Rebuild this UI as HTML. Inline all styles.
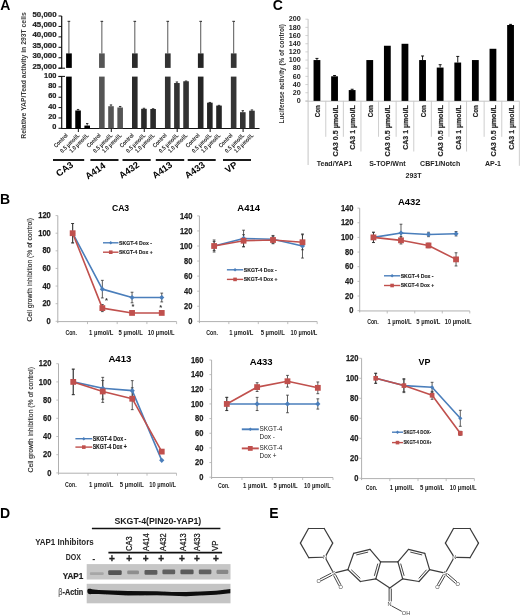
<!DOCTYPE html>
<html><head><meta charset="utf-8"><style>
html,body{margin:0;padding:0;background:#fff;width:520px;height:615px;overflow:hidden}
svg{display:block;font-family:"Liberation Sans",sans-serif;will-change:transform}
</style></head><body>
<svg width="520" height="615" viewBox="0 0 520 615">
<defs><filter id="blur1" x="-20%" y="-50%" width="140%" height="200%"><feGaussianBlur stdDeviation="0.6"/></filter></defs>
<rect width="520" height="615" fill="#fff"/>
<text x="0.2" y="9.9" font-size="14" font-weight="bold" text-anchor="start" fill="#000">A</text>
<text x="0" y="0" transform="translate(26,75.5) rotate(-90)" font-size="8" font-weight="bold" text-anchor="middle" fill="#3a3a3a" textLength="126.5" lengthAdjust="spacingAndGlyphs">Relative YAP/Tead activity in 293T cells</text>
<text x="56.5" y="16.52" font-size="6.4" font-weight="bold" text-anchor="end" fill="#222" textLength="24" lengthAdjust="spacingAndGlyphs" stroke="#222" stroke-width="0.2">50,000</text>
<line x1="58.5" y1="16" x2="61.7" y2="16" stroke="#111" stroke-width="1"/>
<text x="56.5" y="26.96" font-size="6.4" font-weight="bold" text-anchor="end" fill="#222" textLength="24" lengthAdjust="spacingAndGlyphs" stroke="#222" stroke-width="0.2">45,000</text>
<line x1="58.5" y1="26.44" x2="61.7" y2="26.44" stroke="#111" stroke-width="1"/>
<text x="56.5" y="37.4" font-size="6.4" font-weight="bold" text-anchor="end" fill="#222" textLength="24" lengthAdjust="spacingAndGlyphs" stroke="#222" stroke-width="0.2">40,000</text>
<line x1="58.5" y1="36.88" x2="61.7" y2="36.88" stroke="#111" stroke-width="1"/>
<text x="56.5" y="47.84" font-size="6.4" font-weight="bold" text-anchor="end" fill="#222" textLength="24" lengthAdjust="spacingAndGlyphs" stroke="#222" stroke-width="0.2">35,000</text>
<line x1="58.5" y1="47.32" x2="61.7" y2="47.32" stroke="#111" stroke-width="1"/>
<text x="56.5" y="58.28" font-size="6.4" font-weight="bold" text-anchor="end" fill="#222" textLength="24" lengthAdjust="spacingAndGlyphs" stroke="#222" stroke-width="0.2">30,000</text>
<line x1="58.5" y1="57.76" x2="61.7" y2="57.76" stroke="#111" stroke-width="1"/>
<text x="56.5" y="68.72" font-size="6.4" font-weight="bold" text-anchor="end" fill="#222" textLength="24" lengthAdjust="spacingAndGlyphs" stroke="#222" stroke-width="0.2">25,000</text>
<line x1="58.5" y1="68.2" x2="61.7" y2="68.2" stroke="#111" stroke-width="1"/>
<line x1="61.7" y1="16" x2="61.7" y2="68.2" stroke="#111" stroke-width="1.2"/>
<line x1="58.5" y1="68.2" x2="65" y2="68.2" stroke="#111" stroke-width="1"/>
<text x="56.5" y="77.57" font-size="6.9" font-weight="bold" text-anchor="end" fill="#222" textLength="12.39" lengthAdjust="spacingAndGlyphs" stroke="#222" stroke-width="0.2">100</text>
<line x1="58.5" y1="76.55" x2="61.7" y2="76.55" stroke="#111" stroke-width="1"/>
<text x="56.5" y="87.92" font-size="6.9" font-weight="bold" text-anchor="end" fill="#222" textLength="8.26" lengthAdjust="spacingAndGlyphs" stroke="#222" stroke-width="0.2">80</text>
<line x1="58.5" y1="86.9" x2="61.7" y2="86.9" stroke="#111" stroke-width="1"/>
<text x="56.5" y="98.27" font-size="6.9" font-weight="bold" text-anchor="end" fill="#222" textLength="8.26" lengthAdjust="spacingAndGlyphs" stroke="#222" stroke-width="0.2">60</text>
<line x1="58.5" y1="97.25" x2="61.7" y2="97.25" stroke="#111" stroke-width="1"/>
<text x="56.5" y="108.62" font-size="6.9" font-weight="bold" text-anchor="end" fill="#222" textLength="8.26" lengthAdjust="spacingAndGlyphs" stroke="#222" stroke-width="0.2">40</text>
<line x1="58.5" y1="107.6" x2="61.7" y2="107.6" stroke="#111" stroke-width="1"/>
<text x="56.5" y="118.97" font-size="6.9" font-weight="bold" text-anchor="end" fill="#222" textLength="8.26" lengthAdjust="spacingAndGlyphs" stroke="#222" stroke-width="0.2">20</text>
<line x1="58.5" y1="117.95" x2="61.7" y2="117.95" stroke="#111" stroke-width="1"/>
<text x="56.5" y="129.32" font-size="6.9" font-weight="bold" text-anchor="end" fill="#222" textLength="4.13" lengthAdjust="spacingAndGlyphs" stroke="#222" stroke-width="0.2">0</text>
<line x1="58.5" y1="128.3" x2="61.7" y2="128.3" stroke="#111" stroke-width="1"/>
<line x1="61.7" y1="76.4" x2="61.7" y2="128.5" stroke="#111" stroke-width="1.2"/>
<line x1="58.5" y1="76.4" x2="65" y2="76.4" stroke="#111" stroke-width="1"/>
<line x1="61.1" y1="128.5" x2="259.5" y2="128.5" stroke="#111" stroke-width="1.2"/>
<line x1="68.9" y1="21.3" x2="68.9" y2="53.6" stroke="#666" stroke-width="1.1"/>
<line x1="67.6" y1="21.4" x2="70.2" y2="21.4" stroke="#444" stroke-width="1.2"/>
<rect x="66.1" y="53.4" width="5.7" height="14.5" fill="#000"/>
<rect x="66.1" y="76.6" width="5.6" height="51.9" fill="#000"/>
<rect x="75.25" y="110.49" width="5.6" height="18.01" fill="#000"/>
<line x1="78.05" y1="109.46" x2="78.05" y2="110.49" stroke="#222" stroke-width="0.9"/>
<line x1="76.85" y1="109.46" x2="79.25" y2="109.46" stroke="#222" stroke-width="0.9"/>
<rect x="84.4" y="125.58" width="5.6" height="2.92" fill="#000"/>
<line x1="87.2" y1="123.51" x2="87.2" y2="125.58" stroke="#222" stroke-width="0.9"/>
<line x1="86" y1="123.51" x2="88.4" y2="123.51" stroke="#222" stroke-width="0.9"/>
<line x1="78.35" y1="128.5" x2="78.35" y2="132" stroke="#111" stroke-width="1"/>
<text x="0" y="0" transform="translate(68.3,135.8) rotate(-45)" font-size="6" font-weight="bold" text-anchor="end" fill="#222" textLength="17.2" lengthAdjust="spacingAndGlyphs">Control</text>
<text x="0" y="0" transform="translate(80.05,135.8) rotate(-45)" font-size="6" font-weight="bold" text-anchor="end" fill="#222" textLength="24.8" lengthAdjust="spacingAndGlyphs">0.5 µmol/L</text>
<text x="0" y="0" transform="translate(89.2,135.8) rotate(-45)" font-size="6" font-weight="bold" text-anchor="end" fill="#222" textLength="24.8" lengthAdjust="spacingAndGlyphs">1.0 µmol/L</text>
<line x1="101.85" y1="21.3" x2="101.85" y2="53.6" stroke="#666" stroke-width="1.1"/>
<line x1="100.55" y1="21.4" x2="103.15" y2="21.4" stroke="#444" stroke-width="1.2"/>
<rect x="99.05" y="53.4" width="5.7" height="14.5" fill="#555"/>
<rect x="99.05" y="76.6" width="5.6" height="51.9" fill="#555"/>
<rect x="108.2" y="106.21" width="5.6" height="22.29" fill="#555"/>
<line x1="111" y1="104.92" x2="111" y2="106.21" stroke="#222" stroke-width="0.9"/>
<line x1="109.8" y1="104.92" x2="112.2" y2="104.92" stroke="#222" stroke-width="0.9"/>
<rect x="117.35" y="107.5" width="5.6" height="21" fill="#555"/>
<line x1="120.15" y1="106.47" x2="120.15" y2="107.5" stroke="#222" stroke-width="0.9"/>
<line x1="118.95" y1="106.47" x2="121.35" y2="106.47" stroke="#222" stroke-width="0.9"/>
<line x1="111.3" y1="128.5" x2="111.3" y2="132" stroke="#111" stroke-width="1"/>
<text x="0" y="0" transform="translate(101.25,135.8) rotate(-45)" font-size="6" font-weight="bold" text-anchor="end" fill="#222" textLength="17.2" lengthAdjust="spacingAndGlyphs">Control</text>
<text x="0" y="0" transform="translate(113,135.8) rotate(-45)" font-size="6" font-weight="bold" text-anchor="end" fill="#222" textLength="24.8" lengthAdjust="spacingAndGlyphs">0.5 µmol/L</text>
<text x="0" y="0" transform="translate(122.15,135.8) rotate(-45)" font-size="6" font-weight="bold" text-anchor="end" fill="#222" textLength="24.8" lengthAdjust="spacingAndGlyphs">1.0 µmol/L</text>
<line x1="134.8" y1="21.3" x2="134.8" y2="53.6" stroke="#666" stroke-width="1.1"/>
<line x1="133.5" y1="21.4" x2="136.1" y2="21.4" stroke="#444" stroke-width="1.2"/>
<rect x="132" y="53.4" width="5.7" height="14.5" fill="#2b2b2b"/>
<rect x="132" y="76.6" width="5.6" height="51.9" fill="#2b2b2b"/>
<rect x="141.15" y="108.79" width="5.6" height="19.71" fill="#2b2b2b"/>
<line x1="143.95" y1="108.27" x2="143.95" y2="108.79" stroke="#222" stroke-width="0.9"/>
<line x1="142.75" y1="108.27" x2="145.15" y2="108.27" stroke="#222" stroke-width="0.9"/>
<rect x="150.3" y="109" width="5.6" height="19.5" fill="#2b2b2b"/>
<line x1="153.1" y1="108.74" x2="153.1" y2="109" stroke="#222" stroke-width="0.9"/>
<line x1="151.9" y1="108.74" x2="154.3" y2="108.74" stroke="#222" stroke-width="0.9"/>
<line x1="144.25" y1="128.5" x2="144.25" y2="132" stroke="#111" stroke-width="1"/>
<text x="0" y="0" transform="translate(134.2,135.8) rotate(-45)" font-size="6" font-weight="bold" text-anchor="end" fill="#222" textLength="17.2" lengthAdjust="spacingAndGlyphs">Control</text>
<text x="0" y="0" transform="translate(145.95,135.8) rotate(-45)" font-size="6" font-weight="bold" text-anchor="end" fill="#222" textLength="24.8" lengthAdjust="spacingAndGlyphs">0.5 µmol/L</text>
<text x="0" y="0" transform="translate(155.1,135.8) rotate(-45)" font-size="6" font-weight="bold" text-anchor="end" fill="#222" textLength="24.8" lengthAdjust="spacingAndGlyphs">1.0 µmol/L</text>
<line x1="167.75" y1="21.3" x2="167.75" y2="53.6" stroke="#666" stroke-width="1.1"/>
<line x1="166.45" y1="21.4" x2="169.05" y2="21.4" stroke="#444" stroke-width="1.2"/>
<rect x="164.95" y="53.4" width="5.7" height="14.5" fill="#333"/>
<rect x="164.95" y="76.6" width="5.6" height="51.9" fill="#333"/>
<rect x="174.1" y="83.02" width="5.6" height="45.48" fill="#333"/>
<line x1="176.9" y1="81.98" x2="176.9" y2="83.02" stroke="#222" stroke-width="0.9"/>
<line x1="175.7" y1="81.98" x2="178.1" y2="81.98" stroke="#222" stroke-width="0.9"/>
<rect x="183.25" y="81.26" width="5.6" height="47.24" fill="#333"/>
<line x1="186.05" y1="81" x2="186.05" y2="81.26" stroke="#222" stroke-width="0.9"/>
<line x1="184.85" y1="81" x2="187.25" y2="81" stroke="#222" stroke-width="0.9"/>
<line x1="177.2" y1="128.5" x2="177.2" y2="132" stroke="#111" stroke-width="1"/>
<text x="0" y="0" transform="translate(167.15,135.8) rotate(-45)" font-size="6" font-weight="bold" text-anchor="end" fill="#222" textLength="17.2" lengthAdjust="spacingAndGlyphs">Control</text>
<text x="0" y="0" transform="translate(178.9,135.8) rotate(-45)" font-size="6" font-weight="bold" text-anchor="end" fill="#222" textLength="24.8" lengthAdjust="spacingAndGlyphs">0.5 µmol/L</text>
<text x="0" y="0" transform="translate(188.05,135.8) rotate(-45)" font-size="6" font-weight="bold" text-anchor="end" fill="#222" textLength="24.8" lengthAdjust="spacingAndGlyphs">1.0 µmol/L</text>
<line x1="200.7" y1="21.3" x2="200.7" y2="53.6" stroke="#666" stroke-width="1.1"/>
<line x1="199.4" y1="21.4" x2="202" y2="21.4" stroke="#444" stroke-width="1.2"/>
<rect x="197.9" y="53.4" width="5.7" height="14.5" fill="#252525"/>
<rect x="197.9" y="76.6" width="5.6" height="51.9" fill="#252525"/>
<rect x="207.05" y="102.69" width="5.6" height="25.81" fill="#252525"/>
<line x1="209.85" y1="102.44" x2="209.85" y2="102.69" stroke="#222" stroke-width="0.9"/>
<line x1="208.65" y1="102.44" x2="211.05" y2="102.44" stroke="#222" stroke-width="0.9"/>
<rect x="216.2" y="105.59" width="5.6" height="22.91" fill="#252525"/>
<line x1="219" y1="105.33" x2="219" y2="105.59" stroke="#222" stroke-width="0.9"/>
<line x1="217.8" y1="105.33" x2="220.2" y2="105.33" stroke="#222" stroke-width="0.9"/>
<line x1="210.15" y1="128.5" x2="210.15" y2="132" stroke="#111" stroke-width="1"/>
<text x="0" y="0" transform="translate(200.1,135.8) rotate(-45)" font-size="6" font-weight="bold" text-anchor="end" fill="#222" textLength="17.2" lengthAdjust="spacingAndGlyphs">Control</text>
<text x="0" y="0" transform="translate(211.85,135.8) rotate(-45)" font-size="6" font-weight="bold" text-anchor="end" fill="#222" textLength="24.8" lengthAdjust="spacingAndGlyphs">0.5 µmol/L</text>
<text x="0" y="0" transform="translate(221,135.8) rotate(-45)" font-size="6" font-weight="bold" text-anchor="end" fill="#222" textLength="24.8" lengthAdjust="spacingAndGlyphs">1.0 µmol/L</text>
<line x1="233.65" y1="21.3" x2="233.65" y2="53.6" stroke="#666" stroke-width="1.1"/>
<line x1="232.35" y1="21.4" x2="234.95" y2="21.4" stroke="#444" stroke-width="1.2"/>
<rect x="230.85" y="53.4" width="5.7" height="14.5" fill="#353535"/>
<rect x="230.85" y="76.6" width="5.6" height="51.9" fill="#353535"/>
<rect x="240" y="112.2" width="5.6" height="16.3" fill="#353535"/>
<line x1="242.8" y1="110.65" x2="242.8" y2="112.2" stroke="#222" stroke-width="0.9"/>
<line x1="241.6" y1="110.65" x2="244" y2="110.65" stroke="#222" stroke-width="0.9"/>
<rect x="249.15" y="110.7" width="5.6" height="17.8" fill="#353535"/>
<line x1="251.95" y1="109.93" x2="251.95" y2="110.7" stroke="#222" stroke-width="0.9"/>
<line x1="250.75" y1="109.93" x2="253.15" y2="109.93" stroke="#222" stroke-width="0.9"/>
<line x1="243.1" y1="128.5" x2="243.1" y2="132" stroke="#111" stroke-width="1"/>
<text x="0" y="0" transform="translate(233.05,135.8) rotate(-45)" font-size="6" font-weight="bold" text-anchor="end" fill="#222" textLength="17.2" lengthAdjust="spacingAndGlyphs">Control</text>
<text x="0" y="0" transform="translate(244.8,135.8) rotate(-45)" font-size="6" font-weight="bold" text-anchor="end" fill="#222" textLength="24.8" lengthAdjust="spacingAndGlyphs">0.5 µmol/L</text>
<text x="0" y="0" transform="translate(253.95,135.8) rotate(-45)" font-size="6" font-weight="bold" text-anchor="end" fill="#222" textLength="24.8" lengthAdjust="spacingAndGlyphs">1.0 µmol/L</text>
<line x1="53" y1="160" x2="84.2" y2="160" stroke="#000" stroke-width="1.8"/>
<line x1="90.4" y1="160" x2="118.5" y2="160" stroke="#000" stroke-width="1.8"/>
<line x1="122.5" y1="160" x2="150.7" y2="160" stroke="#000" stroke-width="1.8"/>
<line x1="155.8" y1="160" x2="184.2" y2="160" stroke="#000" stroke-width="1.8"/>
<line x1="187.7" y1="160" x2="215.7" y2="160" stroke="#000" stroke-width="1.8"/>
<line x1="223" y1="160" x2="251" y2="160" stroke="#000" stroke-width="1.8"/>
<text x="0" y="0" transform="translate(73.9,166.3) rotate(-35)" font-size="9.3" font-weight="bold" text-anchor="end" fill="#000">CA3</text>
<text x="0" y="0" transform="translate(106.2,167.1) rotate(-35)" font-size="9.3" font-weight="bold" text-anchor="end" fill="#000">A414</text>
<text x="0" y="0" transform="translate(140,166.3) rotate(-35)" font-size="9.3" font-weight="bold" text-anchor="end" fill="#000">A432</text>
<text x="0" y="0" transform="translate(173.1,166.3) rotate(-35)" font-size="9.3" font-weight="bold" text-anchor="end" fill="#000">A413</text>
<text x="0" y="0" transform="translate(205.8,166.3) rotate(-35)" font-size="9.3" font-weight="bold" text-anchor="end" fill="#000">A433</text>
<text x="0" y="0" transform="translate(238,166.3) rotate(-35)" font-size="9.3" font-weight="bold" text-anchor="end" fill="#000">VP</text>
<text x="272.8" y="10.2" font-size="14" font-weight="bold" text-anchor="start" fill="#000">C</text>
<text x="0" y="0" transform="translate(284.2,73.8) rotate(-90)" font-size="7.4" font-weight="bold" text-anchor="middle" fill="#333" textLength="99.4" lengthAdjust="spacingAndGlyphs">Luciferase activity (% of control)</text>
<text x="300.8" y="103.06" font-size="7.2" font-weight="bold" text-anchor="end" fill="#222">0</text>
<line x1="305.4" y1="100.9" x2="308.1" y2="100.9" stroke="#c8c8c8" stroke-width="0.8"/>
<text x="300.8" y="94.89" font-size="7.2" font-weight="bold" text-anchor="end" fill="#222">20</text>
<line x1="305.4" y1="92.73" x2="308.1" y2="92.73" stroke="#c8c8c8" stroke-width="0.8"/>
<text x="300.8" y="86.72" font-size="7.2" font-weight="bold" text-anchor="end" fill="#222">40</text>
<line x1="305.4" y1="84.56" x2="308.1" y2="84.56" stroke="#c8c8c8" stroke-width="0.8"/>
<text x="300.8" y="78.55" font-size="7.2" font-weight="bold" text-anchor="end" fill="#222">60</text>
<line x1="305.4" y1="76.39" x2="308.1" y2="76.39" stroke="#c8c8c8" stroke-width="0.8"/>
<text x="300.8" y="70.38" font-size="7.2" font-weight="bold" text-anchor="end" fill="#222">80</text>
<line x1="305.4" y1="68.22" x2="308.1" y2="68.22" stroke="#c8c8c8" stroke-width="0.8"/>
<text x="300.8" y="62.21" font-size="7.2" font-weight="bold" text-anchor="end" fill="#222">100</text>
<line x1="305.4" y1="60.05" x2="308.1" y2="60.05" stroke="#c8c8c8" stroke-width="0.8"/>
<text x="300.8" y="54.04" font-size="7.2" font-weight="bold" text-anchor="end" fill="#222">120</text>
<line x1="305.4" y1="51.88" x2="308.1" y2="51.88" stroke="#c8c8c8" stroke-width="0.8"/>
<text x="300.8" y="45.87" font-size="7.2" font-weight="bold" text-anchor="end" fill="#222">140</text>
<line x1="305.4" y1="43.71" x2="308.1" y2="43.71" stroke="#c8c8c8" stroke-width="0.8"/>
<text x="300.8" y="37.7" font-size="7.2" font-weight="bold" text-anchor="end" fill="#222">160</text>
<line x1="305.4" y1="35.54" x2="308.1" y2="35.54" stroke="#c8c8c8" stroke-width="0.8"/>
<text x="300.8" y="29.53" font-size="7.2" font-weight="bold" text-anchor="end" fill="#222">180</text>
<line x1="305.4" y1="27.37" x2="308.1" y2="27.37" stroke="#c8c8c8" stroke-width="0.8"/>
<text x="300.8" y="21.36" font-size="7.2" font-weight="bold" text-anchor="end" fill="#222">200</text>
<line x1="305.4" y1="19.2" x2="308.1" y2="19.2" stroke="#c8c8c8" stroke-width="0.8"/>
<line x1="308.1" y1="19.2" x2="308.1" y2="165" stroke="#c4c4c4" stroke-width="1"/>
<line x1="305.4" y1="101.2" x2="519.5" y2="101.2" stroke="#c4c4c4" stroke-width="1"/>
<line x1="325.75" y1="100.9" x2="325.75" y2="136.8" stroke="#c8c8c8" stroke-width="0.9"/>
<line x1="343.35" y1="100.9" x2="343.35" y2="136.8" stroke="#c8c8c8" stroke-width="0.9"/>
<line x1="360.95" y1="100.9" x2="360.95" y2="151.5" stroke="#c8c8c8" stroke-width="0.9"/>
<line x1="378.55" y1="100.9" x2="378.55" y2="136.8" stroke="#c8c8c8" stroke-width="0.9"/>
<line x1="396.15" y1="100.9" x2="396.15" y2="136.8" stroke="#c8c8c8" stroke-width="0.9"/>
<line x1="413.75" y1="100.9" x2="413.75" y2="151.5" stroke="#c8c8c8" stroke-width="0.9"/>
<line x1="431.35" y1="100.9" x2="431.35" y2="136.8" stroke="#c8c8c8" stroke-width="0.9"/>
<line x1="448.95" y1="100.9" x2="448.95" y2="136.8" stroke="#c8c8c8" stroke-width="0.9"/>
<line x1="466.55" y1="100.9" x2="466.55" y2="151.5" stroke="#c8c8c8" stroke-width="0.9"/>
<line x1="484.15" y1="100.9" x2="484.15" y2="136.8" stroke="#c8c8c8" stroke-width="0.9"/>
<line x1="501.75" y1="100.9" x2="501.75" y2="136.8" stroke="#c8c8c8" stroke-width="0.9"/>
<line x1="519.35" y1="100.9" x2="519.35" y2="165.8" stroke="#c8c8c8" stroke-width="0.9"/>
<rect x="313.55" y="60.05" width="6.8" height="40.85" fill="#000"/>
<line x1="316.95" y1="58.42" x2="316.95" y2="60.05" stroke="#000" stroke-width="0.9"/>
<line x1="315.45" y1="58.42" x2="318.45" y2="58.42" stroke="#000" stroke-width="0.9"/>
<text x="0" y="0" transform="translate(320.05,105.2) rotate(-90)" font-size="7.1" font-weight="bold" text-anchor="end" fill="#262626" textLength="12.1" lengthAdjust="spacingAndGlyphs" stroke="#262626" stroke-width="0.2">Con</text>
<rect x="331.15" y="76.31" width="6.8" height="24.59" fill="#000"/>
<line x1="334.55" y1="75.49" x2="334.55" y2="76.31" stroke="#000" stroke-width="0.9"/>
<line x1="333.05" y1="75.49" x2="336.05" y2="75.49" stroke="#000" stroke-width="0.9"/>
<text x="0" y="0" transform="translate(337.65,105.2) rotate(-90)" font-size="7.1" font-weight="bold" text-anchor="end" fill="#262626" textLength="51.3" lengthAdjust="spacingAndGlyphs" stroke="#262626" stroke-width="0.2">CA3 0.5 µmol/L</text>
<rect x="348.75" y="90.07" width="6.8" height="10.83" fill="#000"/>
<line x1="352.15" y1="89.26" x2="352.15" y2="90.07" stroke="#000" stroke-width="0.9"/>
<line x1="350.65" y1="89.26" x2="353.65" y2="89.26" stroke="#000" stroke-width="0.9"/>
<text x="0" y="0" transform="translate(355.25,105.2) rotate(-90)" font-size="7.1" font-weight="bold" text-anchor="end" fill="#262626" textLength="44.6" lengthAdjust="spacingAndGlyphs" stroke="#262626" stroke-width="0.2">CA3 1 µmol/L</text>
<rect x="366.35" y="60.05" width="6.8" height="40.85" fill="#000"/>
<text x="0" y="0" transform="translate(372.85,105.2) rotate(-90)" font-size="7.1" font-weight="bold" text-anchor="end" fill="#262626" textLength="12.1" lengthAdjust="spacingAndGlyphs" stroke="#262626" stroke-width="0.2">Con</text>
<rect x="383.95" y="45.75" width="6.8" height="55.15" fill="#000"/>
<text x="0" y="0" transform="translate(390.45,105.2) rotate(-90)" font-size="7.1" font-weight="bold" text-anchor="end" fill="#262626" textLength="51.3" lengthAdjust="spacingAndGlyphs" stroke="#262626" stroke-width="0.2">CA3 0.5 µmol/L</text>
<rect x="401.55" y="43.79" width="6.8" height="57.11" fill="#000"/>
<text x="0" y="0" transform="translate(408.05,105.2) rotate(-90)" font-size="7.1" font-weight="bold" text-anchor="end" fill="#262626" textLength="44.6" lengthAdjust="spacingAndGlyphs" stroke="#262626" stroke-width="0.2">CA3 1 µmol/L</text>
<rect x="419.15" y="60.05" width="6.8" height="40.85" fill="#000"/>
<line x1="422.55" y1="55.97" x2="422.55" y2="60.05" stroke="#000" stroke-width="0.9"/>
<line x1="421.05" y1="55.97" x2="424.05" y2="55.97" stroke="#000" stroke-width="0.9"/>
<text x="0" y="0" transform="translate(425.65,105.2) rotate(-90)" font-size="7.1" font-weight="bold" text-anchor="end" fill="#262626" textLength="12.1" lengthAdjust="spacingAndGlyphs" stroke="#262626" stroke-width="0.2">Con</text>
<rect x="436.75" y="67.57" width="6.8" height="33.33" fill="#000"/>
<line x1="440.15" y1="64.71" x2="440.15" y2="67.57" stroke="#000" stroke-width="0.9"/>
<line x1="438.65" y1="64.71" x2="441.65" y2="64.71" stroke="#000" stroke-width="0.9"/>
<text x="0" y="0" transform="translate(443.25,105.2) rotate(-90)" font-size="7.1" font-weight="bold" text-anchor="end" fill="#262626" textLength="51.3" lengthAdjust="spacingAndGlyphs" stroke="#262626" stroke-width="0.2">CA3 0.5 µmol/L</text>
<rect x="454.35" y="62.54" width="6.8" height="38.36" fill="#000"/>
<line x1="457.75" y1="56.41" x2="457.75" y2="62.54" stroke="#000" stroke-width="0.9"/>
<line x1="456.25" y1="56.41" x2="459.25" y2="56.41" stroke="#000" stroke-width="0.9"/>
<text x="0" y="0" transform="translate(460.85,105.2) rotate(-90)" font-size="7.1" font-weight="bold" text-anchor="end" fill="#262626" textLength="44.6" lengthAdjust="spacingAndGlyphs" stroke="#262626" stroke-width="0.2">CA3 1 µmol/L</text>
<rect x="471.95" y="60.05" width="6.8" height="40.85" fill="#000"/>
<text x="0" y="0" transform="translate(478.45,105.2) rotate(-90)" font-size="7.1" font-weight="bold" text-anchor="end" fill="#262626" textLength="12.1" lengthAdjust="spacingAndGlyphs" stroke="#262626" stroke-width="0.2">Con</text>
<rect x="489.55" y="48.78" width="6.8" height="52.12" fill="#000"/>
<text x="0" y="0" transform="translate(496.05,105.2) rotate(-90)" font-size="7.1" font-weight="bold" text-anchor="end" fill="#262626" textLength="51.3" lengthAdjust="spacingAndGlyphs" stroke="#262626" stroke-width="0.2">CA3 0.5 µmol/L</text>
<rect x="507.15" y="25" width="6.8" height="75.9" fill="#000"/>
<line x1="510.55" y1="24.39" x2="510.55" y2="25" stroke="#000" stroke-width="0.9"/>
<line x1="509.05" y1="24.39" x2="512.05" y2="24.39" stroke="#000" stroke-width="0.9"/>
<text x="0" y="0" transform="translate(513.65,105.2) rotate(-90)" font-size="7.1" font-weight="bold" text-anchor="end" fill="#262626" textLength="44.6" lengthAdjust="spacingAndGlyphs" stroke="#262626" stroke-width="0.2">CA3 1 µmol/L</text>
<text x="334.55" y="165.6" font-size="7" font-weight="bold" text-anchor="middle" fill="#222">Tead/YAP1</text>
<text x="387.35" y="165.6" font-size="7" font-weight="bold" text-anchor="middle" fill="#222">S-TOP/Wnt</text>
<text x="440.15" y="165.6" font-size="7" font-weight="bold" text-anchor="middle" fill="#222">CBF1/Notch</text>
<text x="492.95" y="165.6" font-size="7" font-weight="bold" text-anchor="middle" fill="#222">AP-1</text>
<text x="413.5" y="177.9" font-size="7" font-weight="bold" text-anchor="middle" fill="#222">293T</text>
<text x="0" y="203.8" font-size="14" font-weight="bold" text-anchor="start" fill="#000">B</text>
<text x="120.55" y="210.68" font-size="9.6" font-weight="bold" text-anchor="middle" fill="#000" textLength="17.3" lengthAdjust="spacingAndGlyphs">CA3</text>
<text x="50.8" y="323.94" font-size="8.8" font-weight="bold" text-anchor="end" fill="#1e1e1e" textLength="4.2" lengthAdjust="spacingAndGlyphs" stroke="#1e1e1e" stroke-width="0.25">0</text>
<line x1="55.6" y1="321.3" x2="57.8" y2="321.3" stroke="#b0b0b0" stroke-width="0.8"/>
<text x="50.8" y="306.32" font-size="8.8" font-weight="bold" text-anchor="end" fill="#1e1e1e" textLength="8.4" lengthAdjust="spacingAndGlyphs" stroke="#1e1e1e" stroke-width="0.25">20</text>
<line x1="55.6" y1="303.68" x2="57.8" y2="303.68" stroke="#b0b0b0" stroke-width="0.8"/>
<text x="50.8" y="288.7" font-size="8.8" font-weight="bold" text-anchor="end" fill="#1e1e1e" textLength="8.4" lengthAdjust="spacingAndGlyphs" stroke="#1e1e1e" stroke-width="0.25">40</text>
<line x1="55.6" y1="286.06" x2="57.8" y2="286.06" stroke="#b0b0b0" stroke-width="0.8"/>
<text x="50.8" y="271.08" font-size="8.8" font-weight="bold" text-anchor="end" fill="#1e1e1e" textLength="8.4" lengthAdjust="spacingAndGlyphs" stroke="#1e1e1e" stroke-width="0.25">60</text>
<line x1="55.6" y1="268.44" x2="57.8" y2="268.44" stroke="#b0b0b0" stroke-width="0.8"/>
<text x="50.8" y="253.46" font-size="8.8" font-weight="bold" text-anchor="end" fill="#1e1e1e" textLength="8.4" lengthAdjust="spacingAndGlyphs" stroke="#1e1e1e" stroke-width="0.25">80</text>
<line x1="55.6" y1="250.82" x2="57.8" y2="250.82" stroke="#b0b0b0" stroke-width="0.8"/>
<text x="50.8" y="235.84" font-size="8.8" font-weight="bold" text-anchor="end" fill="#1e1e1e" textLength="12.6" lengthAdjust="spacingAndGlyphs" stroke="#1e1e1e" stroke-width="0.25">100</text>
<line x1="55.6" y1="233.2" x2="57.8" y2="233.2" stroke="#b0b0b0" stroke-width="0.8"/>
<text x="50.8" y="218.22" font-size="8.8" font-weight="bold" text-anchor="end" fill="#1e1e1e" textLength="12.6" lengthAdjust="spacingAndGlyphs" stroke="#1e1e1e" stroke-width="0.25">120</text>
<line x1="55.6" y1="215.58" x2="57.8" y2="215.58" stroke="#b0b0b0" stroke-width="0.8"/>
<line x1="57.8" y1="215.58" x2="57.8" y2="323.1" stroke="#b0b0b0" stroke-width="1"/>
<line x1="57.3" y1="321.6" x2="176.6" y2="321.6" stroke="#b0b0b0" stroke-width="1"/>
<line x1="87.5" y1="321.6" x2="87.5" y2="324.1" stroke="#b0b0b0" stroke-width="0.8"/>
<line x1="117.2" y1="321.6" x2="117.2" y2="324.1" stroke="#b0b0b0" stroke-width="0.8"/>
<line x1="146.9" y1="321.6" x2="146.9" y2="324.1" stroke="#b0b0b0" stroke-width="0.8"/>
<line x1="176.6" y1="321.6" x2="176.6" y2="324.1" stroke="#b0b0b0" stroke-width="0.8"/>
<text x="71.2" y="334.8" font-size="7" font-weight="bold" text-anchor="middle" fill="#222" textLength="11.6" lengthAdjust="spacingAndGlyphs">Con.</text>
<text x="101.2" y="334.8" font-size="7" font-weight="bold" text-anchor="middle" fill="#222" textLength="24.2" lengthAdjust="spacingAndGlyphs">1 µmol/L</text>
<text x="130.7" y="334.8" font-size="7" font-weight="bold" text-anchor="middle" fill="#222" textLength="24.2" lengthAdjust="spacingAndGlyphs">5 µmol/L</text>
<text x="161.2" y="334.8" font-size="7" font-weight="bold" text-anchor="middle" fill="#222" textLength="26.8" lengthAdjust="spacingAndGlyphs">10 µmol/L</text>
<line x1="72.65" y1="223.51" x2="72.65" y2="242.89" stroke="#333" stroke-width="0.8"/>
<line x1="71.25" y1="223.51" x2="74.05" y2="223.51" stroke="#333" stroke-width="0.8"/>
<line x1="71.25" y1="242.89" x2="74.05" y2="242.89" stroke="#333" stroke-width="0.8"/>
<line x1="102.35" y1="280.33" x2="102.35" y2="297.95" stroke="#333" stroke-width="0.8"/>
<line x1="100.95" y1="280.33" x2="103.75" y2="280.33" stroke="#333" stroke-width="0.8"/>
<line x1="100.95" y1="297.95" x2="103.75" y2="297.95" stroke="#333" stroke-width="0.8"/>
<line x1="132.05" y1="292.23" x2="132.05" y2="302.8" stroke="#333" stroke-width="0.8"/>
<line x1="130.65" y1="292.23" x2="133.45" y2="292.23" stroke="#333" stroke-width="0.8"/>
<line x1="130.65" y1="302.8" x2="133.45" y2="302.8" stroke="#333" stroke-width="0.8"/>
<line x1="161.75" y1="293.11" x2="161.75" y2="301.92" stroke="#333" stroke-width="0.8"/>
<line x1="160.35" y1="293.11" x2="163.15" y2="293.11" stroke="#333" stroke-width="0.8"/>
<line x1="160.35" y1="301.92" x2="163.15" y2="301.92" stroke="#333" stroke-width="0.8"/>
<line x1="72.65" y1="223.51" x2="72.65" y2="242.89" stroke="#333" stroke-width="0.8"/>
<line x1="71.25" y1="223.51" x2="74.05" y2="223.51" stroke="#333" stroke-width="0.8"/>
<line x1="71.25" y1="242.89" x2="74.05" y2="242.89" stroke="#333" stroke-width="0.8"/>
<line x1="102.35" y1="304.56" x2="102.35" y2="311.61" stroke="#333" stroke-width="0.8"/>
<line x1="100.95" y1="304.56" x2="103.75" y2="304.56" stroke="#333" stroke-width="0.8"/>
<line x1="100.95" y1="311.61" x2="103.75" y2="311.61" stroke="#333" stroke-width="0.8"/>
<polyline points="72.65,233.2 102.35,289.14 132.05,297.51 161.75,297.51" fill="none" stroke="#4a7ebb" stroke-width="1.6" stroke-linejoin="round"/>
<polyline points="72.65,233.2 102.35,308.09 132.05,312.93 161.75,312.93" fill="none" stroke="#c0504d" stroke-width="1.6" stroke-linejoin="round"/>
<path d="M72.65 230.6L75.25 233.2L72.65 235.8L70.05 233.2Z" fill="#4a7ebb"/>
<path d="M102.35 286.54L104.95 289.14L102.35 291.74L99.75 289.14Z" fill="#4a7ebb"/>
<path d="M132.05 294.91L134.65 297.51L132.05 300.11L129.45 297.51Z" fill="#4a7ebb"/>
<path d="M161.75 294.91L164.35 297.51L161.75 300.11L159.15 297.51Z" fill="#4a7ebb"/>
<rect x="69.75" y="230.3" width="5.8" height="5.8" fill="#c0504d"/>
<rect x="99.45" y="305.19" width="5.8" height="5.8" fill="#c0504d"/>
<rect x="129.15" y="310.03" width="5.8" height="5.8" fill="#c0504d"/>
<rect x="158.85" y="310.03" width="5.8" height="5.8" fill="#c0504d"/>
<line x1="103" y1="242.8" x2="118.5" y2="242.8" stroke="#4a7ebb" stroke-width="1.4"/>
<path d="M110.75 241.1L112.45 242.8L110.75 244.5L109.05 242.8Z" fill="#4a7ebb"/>
<line x1="103" y1="252.2" x2="118.5" y2="252.2" stroke="#c0504d" stroke-width="1.4"/>
<rect x="108.95" y="250.4" width="3.6" height="3.6" fill="#c0504d"/>
<text x="119" y="244.66" font-size="6.2" font-weight="bold" text-anchor="start" fill="#1e1e1e" textLength="33" lengthAdjust="spacingAndGlyphs" stroke="#1e1e1e" stroke-width="0.15">SKGT-4 Dox -</text>
<text x="119" y="254.06" font-size="6.2" font-weight="bold" text-anchor="start" fill="#1e1e1e" textLength="33.6" lengthAdjust="spacingAndGlyphs" stroke="#1e1e1e" stroke-width="0.15">SKGT-4 Dox +</text>
<text x="106.5" y="302.9" font-size="7.5" font-weight="bold" text-anchor="middle" fill="#333">*</text>
<text x="133" y="308.5" font-size="7.5" font-weight="bold" text-anchor="middle" fill="#333">*</text>
<text x="160.7" y="309.6" font-size="7.5" font-weight="bold" text-anchor="middle" fill="#333">*</text>
<text x="0" y="0" transform="translate(32.2,269.8) rotate(-90)" font-size="7" font-weight="normal" text-anchor="middle" fill="#2a2a2a" textLength="103.4" lengthAdjust="spacingAndGlyphs" stroke="#2a2a2a" stroke-width="0.15">Cell growth inhibition (% of control)</text>
<text x="248.65" y="211.48" font-size="9.6" font-weight="bold" text-anchor="middle" fill="#000" textLength="22.7" lengthAdjust="spacingAndGlyphs">A414</text>
<text x="192.5" y="323.94" font-size="8.8" font-weight="bold" text-anchor="end" fill="#1e1e1e" textLength="4.2" lengthAdjust="spacingAndGlyphs" stroke="#1e1e1e" stroke-width="0.25">0</text>
<line x1="197.2" y1="321.3" x2="199.4" y2="321.3" stroke="#b0b0b0" stroke-width="0.8"/>
<text x="192.5" y="308.88" font-size="8.8" font-weight="bold" text-anchor="end" fill="#1e1e1e" textLength="8.4" lengthAdjust="spacingAndGlyphs" stroke="#1e1e1e" stroke-width="0.25">20</text>
<line x1="197.2" y1="306.24" x2="199.4" y2="306.24" stroke="#b0b0b0" stroke-width="0.8"/>
<text x="192.5" y="293.82" font-size="8.8" font-weight="bold" text-anchor="end" fill="#1e1e1e" textLength="8.4" lengthAdjust="spacingAndGlyphs" stroke="#1e1e1e" stroke-width="0.25">40</text>
<line x1="197.2" y1="291.18" x2="199.4" y2="291.18" stroke="#b0b0b0" stroke-width="0.8"/>
<text x="192.5" y="278.76" font-size="8.8" font-weight="bold" text-anchor="end" fill="#1e1e1e" textLength="8.4" lengthAdjust="spacingAndGlyphs" stroke="#1e1e1e" stroke-width="0.25">60</text>
<line x1="197.2" y1="276.12" x2="199.4" y2="276.12" stroke="#b0b0b0" stroke-width="0.8"/>
<text x="192.5" y="263.7" font-size="8.8" font-weight="bold" text-anchor="end" fill="#1e1e1e" textLength="8.4" lengthAdjust="spacingAndGlyphs" stroke="#1e1e1e" stroke-width="0.25">80</text>
<line x1="197.2" y1="261.06" x2="199.4" y2="261.06" stroke="#b0b0b0" stroke-width="0.8"/>
<text x="192.5" y="248.64" font-size="8.8" font-weight="bold" text-anchor="end" fill="#1e1e1e" textLength="12.6" lengthAdjust="spacingAndGlyphs" stroke="#1e1e1e" stroke-width="0.25">100</text>
<line x1="197.2" y1="246" x2="199.4" y2="246" stroke="#b0b0b0" stroke-width="0.8"/>
<text x="192.5" y="233.58" font-size="8.8" font-weight="bold" text-anchor="end" fill="#1e1e1e" textLength="12.6" lengthAdjust="spacingAndGlyphs" stroke="#1e1e1e" stroke-width="0.25">120</text>
<line x1="197.2" y1="230.94" x2="199.4" y2="230.94" stroke="#b0b0b0" stroke-width="0.8"/>
<text x="192.5" y="218.52" font-size="8.8" font-weight="bold" text-anchor="end" fill="#1e1e1e" textLength="12.6" lengthAdjust="spacingAndGlyphs" stroke="#1e1e1e" stroke-width="0.25">140</text>
<line x1="197.2" y1="215.88" x2="199.4" y2="215.88" stroke="#b0b0b0" stroke-width="0.8"/>
<line x1="199.4" y1="215.88" x2="199.4" y2="323.1" stroke="#b0b0b0" stroke-width="1"/>
<line x1="198.9" y1="321.6" x2="317.2" y2="321.6" stroke="#b0b0b0" stroke-width="1"/>
<line x1="228.85" y1="321.6" x2="228.85" y2="324.1" stroke="#b0b0b0" stroke-width="0.8"/>
<line x1="258.3" y1="321.6" x2="258.3" y2="324.1" stroke="#b0b0b0" stroke-width="0.8"/>
<line x1="287.75" y1="321.6" x2="287.75" y2="324.1" stroke="#b0b0b0" stroke-width="0.8"/>
<line x1="317.2" y1="321.6" x2="317.2" y2="324.1" stroke="#b0b0b0" stroke-width="0.8"/>
<text x="212.12" y="334.6" font-size="7" font-weight="bold" text-anchor="middle" fill="#222" textLength="11.6" lengthAdjust="spacingAndGlyphs">Con.</text>
<text x="241.27" y="334.6" font-size="7" font-weight="bold" text-anchor="middle" fill="#222" textLength="24.2" lengthAdjust="spacingAndGlyphs">1 µmol/L</text>
<text x="272.77" y="334.6" font-size="7" font-weight="bold" text-anchor="middle" fill="#222" textLength="24.2" lengthAdjust="spacingAndGlyphs">5 µmol/L</text>
<text x="303.98" y="334.6" font-size="7" font-weight="bold" text-anchor="middle" fill="#222" textLength="26.8" lengthAdjust="spacingAndGlyphs">10 µmol/L</text>
<line x1="214.12" y1="239.98" x2="214.12" y2="252.02" stroke="#333" stroke-width="0.8"/>
<line x1="212.72" y1="239.98" x2="215.53" y2="239.98" stroke="#333" stroke-width="0.8"/>
<line x1="212.72" y1="252.02" x2="215.53" y2="252.02" stroke="#333" stroke-width="0.8"/>
<line x1="243.57" y1="230.19" x2="243.57" y2="246.75" stroke="#333" stroke-width="0.8"/>
<line x1="242.17" y1="230.19" x2="244.97" y2="230.19" stroke="#333" stroke-width="0.8"/>
<line x1="242.17" y1="246.75" x2="244.97" y2="246.75" stroke="#333" stroke-width="0.8"/>
<line x1="273.02" y1="235.46" x2="273.02" y2="242.99" stroke="#333" stroke-width="0.8"/>
<line x1="271.62" y1="235.46" x2="274.42" y2="235.46" stroke="#333" stroke-width="0.8"/>
<line x1="271.62" y1="242.99" x2="274.42" y2="242.99" stroke="#333" stroke-width="0.8"/>
<line x1="302.48" y1="233.95" x2="302.48" y2="258.05" stroke="#333" stroke-width="0.8"/>
<line x1="301.08" y1="233.95" x2="303.88" y2="233.95" stroke="#333" stroke-width="0.8"/>
<line x1="301.08" y1="258.05" x2="303.88" y2="258.05" stroke="#333" stroke-width="0.8"/>
<line x1="214.12" y1="241.48" x2="214.12" y2="250.52" stroke="#333" stroke-width="0.8"/>
<line x1="212.72" y1="241.48" x2="215.53" y2="241.48" stroke="#333" stroke-width="0.8"/>
<line x1="212.72" y1="250.52" x2="215.53" y2="250.52" stroke="#333" stroke-width="0.8"/>
<line x1="243.57" y1="234.71" x2="243.57" y2="246.75" stroke="#333" stroke-width="0.8"/>
<line x1="242.17" y1="234.71" x2="244.97" y2="234.71" stroke="#333" stroke-width="0.8"/>
<line x1="242.17" y1="246.75" x2="244.97" y2="246.75" stroke="#333" stroke-width="0.8"/>
<line x1="273.02" y1="236.21" x2="273.02" y2="243.74" stroke="#333" stroke-width="0.8"/>
<line x1="271.62" y1="236.21" x2="274.42" y2="236.21" stroke="#333" stroke-width="0.8"/>
<line x1="271.62" y1="243.74" x2="274.42" y2="243.74" stroke="#333" stroke-width="0.8"/>
<line x1="302.48" y1="234.71" x2="302.48" y2="249.77" stroke="#333" stroke-width="0.8"/>
<line x1="301.08" y1="234.71" x2="303.88" y2="234.71" stroke="#333" stroke-width="0.8"/>
<line x1="301.08" y1="249.77" x2="303.88" y2="249.77" stroke="#333" stroke-width="0.8"/>
<polyline points="214.12,246 243.57,238.47 273.02,239.22 302.48,246" fill="none" stroke="#4a7ebb" stroke-width="1.6" stroke-linejoin="round"/>
<polyline points="214.12,246 243.57,240.73 273.02,239.98 302.48,242.24" fill="none" stroke="#c0504d" stroke-width="1.6" stroke-linejoin="round"/>
<path d="M214.12 243.4L216.72 246L214.12 248.6L211.53 246Z" fill="#4a7ebb"/>
<path d="M243.57 235.87L246.17 238.47L243.57 241.07L240.97 238.47Z" fill="#4a7ebb"/>
<path d="M273.02 236.62L275.62 239.22L273.02 241.82L270.42 239.22Z" fill="#4a7ebb"/>
<path d="M302.48 243.4L305.08 246L302.48 248.6L299.88 246Z" fill="#4a7ebb"/>
<rect x="211.22" y="243.1" width="5.8" height="5.8" fill="#c0504d"/>
<rect x="240.67" y="237.83" width="5.8" height="5.8" fill="#c0504d"/>
<rect x="270.12" y="237.08" width="5.8" height="5.8" fill="#c0504d"/>
<rect x="299.58" y="239.34" width="5.8" height="5.8" fill="#c0504d"/>
<line x1="226.9" y1="269.8" x2="243.2" y2="269.8" stroke="#4a7ebb" stroke-width="1.4"/>
<path d="M235.05 268.1L236.75 269.8L235.05 271.5L233.35 269.8Z" fill="#4a7ebb"/>
<line x1="226.9" y1="279.4" x2="243.2" y2="279.4" stroke="#c0504d" stroke-width="1.4"/>
<rect x="233.25" y="277.6" width="3.6" height="3.6" fill="#c0504d"/>
<text x="243.7" y="271.66" font-size="6.2" font-weight="bold" text-anchor="start" fill="#1e1e1e" textLength="33.1" lengthAdjust="spacingAndGlyphs" stroke="#1e1e1e" stroke-width="0.15">SKGT-4 Dox -</text>
<text x="243.7" y="281.26" font-size="6.2" font-weight="bold" text-anchor="start" fill="#1e1e1e" textLength="33.7" lengthAdjust="spacingAndGlyphs" stroke="#1e1e1e" stroke-width="0.15">SKGT-4 Dox +</text>
<text x="409.3" y="205.28" font-size="9.6" font-weight="bold" text-anchor="middle" fill="#000" textLength="22.6" lengthAdjust="spacingAndGlyphs">A432</text>
<text x="353.5" y="313.29" font-size="8.8" font-weight="bold" text-anchor="end" fill="#1e1e1e" textLength="4.2" lengthAdjust="spacingAndGlyphs" stroke="#1e1e1e" stroke-width="0.25">0</text>
<line x1="357.5" y1="310.65" x2="359.7" y2="310.65" stroke="#b0b0b0" stroke-width="0.8"/>
<text x="353.5" y="298.64" font-size="8.8" font-weight="bold" text-anchor="end" fill="#1e1e1e" textLength="8.4" lengthAdjust="spacingAndGlyphs" stroke="#1e1e1e" stroke-width="0.25">20</text>
<line x1="357.5" y1="296" x2="359.7" y2="296" stroke="#b0b0b0" stroke-width="0.8"/>
<text x="353.5" y="283.99" font-size="8.8" font-weight="bold" text-anchor="end" fill="#1e1e1e" textLength="8.4" lengthAdjust="spacingAndGlyphs" stroke="#1e1e1e" stroke-width="0.25">40</text>
<line x1="357.5" y1="281.35" x2="359.7" y2="281.35" stroke="#b0b0b0" stroke-width="0.8"/>
<text x="353.5" y="269.34" font-size="8.8" font-weight="bold" text-anchor="end" fill="#1e1e1e" textLength="8.4" lengthAdjust="spacingAndGlyphs" stroke="#1e1e1e" stroke-width="0.25">60</text>
<line x1="357.5" y1="266.7" x2="359.7" y2="266.7" stroke="#b0b0b0" stroke-width="0.8"/>
<text x="353.5" y="254.69" font-size="8.8" font-weight="bold" text-anchor="end" fill="#1e1e1e" textLength="8.4" lengthAdjust="spacingAndGlyphs" stroke="#1e1e1e" stroke-width="0.25">80</text>
<line x1="357.5" y1="252.05" x2="359.7" y2="252.05" stroke="#b0b0b0" stroke-width="0.8"/>
<text x="353.5" y="240.04" font-size="8.8" font-weight="bold" text-anchor="end" fill="#1e1e1e" textLength="12.6" lengthAdjust="spacingAndGlyphs" stroke="#1e1e1e" stroke-width="0.25">100</text>
<line x1="357.5" y1="237.4" x2="359.7" y2="237.4" stroke="#b0b0b0" stroke-width="0.8"/>
<text x="353.5" y="225.39" font-size="8.8" font-weight="bold" text-anchor="end" fill="#1e1e1e" textLength="12.6" lengthAdjust="spacingAndGlyphs" stroke="#1e1e1e" stroke-width="0.25">120</text>
<line x1="357.5" y1="222.75" x2="359.7" y2="222.75" stroke="#b0b0b0" stroke-width="0.8"/>
<text x="353.5" y="210.74" font-size="8.8" font-weight="bold" text-anchor="end" fill="#1e1e1e" textLength="12.6" lengthAdjust="spacingAndGlyphs" stroke="#1e1e1e" stroke-width="0.25">140</text>
<line x1="357.5" y1="208.1" x2="359.7" y2="208.1" stroke="#b0b0b0" stroke-width="0.8"/>
<line x1="359.7" y1="208.1" x2="359.7" y2="312.45" stroke="#b0b0b0" stroke-width="1"/>
<line x1="359.2" y1="310.95" x2="469.8" y2="310.95" stroke="#b0b0b0" stroke-width="1"/>
<line x1="387.23" y1="310.95" x2="387.23" y2="313.45" stroke="#b0b0b0" stroke-width="0.8"/>
<line x1="414.75" y1="310.95" x2="414.75" y2="313.45" stroke="#b0b0b0" stroke-width="0.8"/>
<line x1="442.27" y1="310.95" x2="442.27" y2="313.45" stroke="#b0b0b0" stroke-width="0.8"/>
<line x1="469.8" y1="310.95" x2="469.8" y2="313.45" stroke="#b0b0b0" stroke-width="0.8"/>
<text x="372.96" y="324.3" font-size="7" font-weight="bold" text-anchor="middle" fill="#222" textLength="11.6" lengthAdjust="spacingAndGlyphs">Con.</text>
<text x="399.49" y="324.3" font-size="7" font-weight="bold" text-anchor="middle" fill="#222" textLength="24.2" lengthAdjust="spacingAndGlyphs">1 µmol/L</text>
<text x="428.31" y="324.3" font-size="7" font-weight="bold" text-anchor="middle" fill="#222" textLength="24.2" lengthAdjust="spacingAndGlyphs">5 µmol/L</text>
<text x="458.14" y="324.3" font-size="7" font-weight="bold" text-anchor="middle" fill="#222" textLength="26.8" lengthAdjust="spacingAndGlyphs">10 µmol/L</text>
<line x1="373.46" y1="232.27" x2="373.46" y2="242.53" stroke="#333" stroke-width="0.8"/>
<line x1="372.06" y1="232.27" x2="374.86" y2="232.27" stroke="#333" stroke-width="0.8"/>
<line x1="372.06" y1="242.53" x2="374.86" y2="242.53" stroke="#333" stroke-width="0.8"/>
<line x1="400.99" y1="224.21" x2="400.99" y2="241.79" stroke="#333" stroke-width="0.8"/>
<line x1="399.59" y1="224.21" x2="402.39" y2="224.21" stroke="#333" stroke-width="0.8"/>
<line x1="399.59" y1="241.79" x2="402.39" y2="241.79" stroke="#333" stroke-width="0.8"/>
<line x1="428.51" y1="232.27" x2="428.51" y2="236.67" stroke="#333" stroke-width="0.8"/>
<line x1="427.11" y1="232.27" x2="429.91" y2="232.27" stroke="#333" stroke-width="0.8"/>
<line x1="427.11" y1="236.67" x2="429.91" y2="236.67" stroke="#333" stroke-width="0.8"/>
<line x1="456.04" y1="231.54" x2="456.04" y2="235.93" stroke="#333" stroke-width="0.8"/>
<line x1="454.64" y1="231.54" x2="457.44" y2="231.54" stroke="#333" stroke-width="0.8"/>
<line x1="454.64" y1="235.93" x2="457.44" y2="235.93" stroke="#333" stroke-width="0.8"/>
<line x1="373.46" y1="232.27" x2="373.46" y2="242.53" stroke="#333" stroke-width="0.8"/>
<line x1="372.06" y1="232.27" x2="374.86" y2="232.27" stroke="#333" stroke-width="0.8"/>
<line x1="372.06" y1="242.53" x2="374.86" y2="242.53" stroke="#333" stroke-width="0.8"/>
<line x1="400.99" y1="236.67" x2="400.99" y2="243.99" stroke="#333" stroke-width="0.8"/>
<line x1="399.59" y1="236.67" x2="402.39" y2="236.67" stroke="#333" stroke-width="0.8"/>
<line x1="399.59" y1="243.99" x2="402.39" y2="243.99" stroke="#333" stroke-width="0.8"/>
<line x1="428.51" y1="243.26" x2="428.51" y2="247.65" stroke="#333" stroke-width="0.8"/>
<line x1="427.11" y1="243.26" x2="429.91" y2="243.26" stroke="#333" stroke-width="0.8"/>
<line x1="427.11" y1="247.65" x2="429.91" y2="247.65" stroke="#333" stroke-width="0.8"/>
<line x1="456.04" y1="252.78" x2="456.04" y2="265.97" stroke="#333" stroke-width="0.8"/>
<line x1="454.64" y1="252.78" x2="457.44" y2="252.78" stroke="#333" stroke-width="0.8"/>
<line x1="454.64" y1="265.97" x2="457.44" y2="265.97" stroke="#333" stroke-width="0.8"/>
<polyline points="373.46,237.4 400.99,233 428.51,234.47 456.04,233.74" fill="none" stroke="#4a7ebb" stroke-width="1.6" stroke-linejoin="round"/>
<polyline points="373.46,237.4 400.99,240.33 428.51,245.46 456.04,259.38" fill="none" stroke="#c0504d" stroke-width="1.6" stroke-linejoin="round"/>
<path d="M373.46 234.8L376.06 237.4L373.46 240L370.86 237.4Z" fill="#4a7ebb"/>
<path d="M400.99 230.4L403.59 233L400.99 235.6L398.39 233Z" fill="#4a7ebb"/>
<path d="M428.51 231.87L431.11 234.47L428.51 237.07L425.91 234.47Z" fill="#4a7ebb"/>
<path d="M456.04 231.14L458.64 233.74L456.04 236.34L453.44 233.74Z" fill="#4a7ebb"/>
<rect x="370.56" y="234.5" width="5.8" height="5.8" fill="#c0504d"/>
<rect x="398.09" y="237.43" width="5.8" height="5.8" fill="#c0504d"/>
<rect x="425.61" y="242.56" width="5.8" height="5.8" fill="#c0504d"/>
<rect x="453.14" y="256.48" width="5.8" height="5.8" fill="#c0504d"/>
<line x1="384" y1="275.8" x2="400.2" y2="275.8" stroke="#4a7ebb" stroke-width="1.4"/>
<path d="M392.1 274.1L393.8 275.8L392.1 277.5L390.4 275.8Z" fill="#4a7ebb"/>
<line x1="384" y1="285.5" x2="400.2" y2="285.5" stroke="#c0504d" stroke-width="1.4"/>
<rect x="390.3" y="283.7" width="3.6" height="3.6" fill="#c0504d"/>
<text x="400.7" y="277.66" font-size="6.2" font-weight="bold" text-anchor="start" fill="#1e1e1e" textLength="32.9" lengthAdjust="spacingAndGlyphs" stroke="#1e1e1e" stroke-width="0.15">SKGT-4 Dox -</text>
<text x="400.7" y="287.36" font-size="6.2" font-weight="bold" text-anchor="start" fill="#1e1e1e" textLength="33.5" lengthAdjust="spacingAndGlyphs" stroke="#1e1e1e" stroke-width="0.15">SKGT-4 Dox +</text>
<text x="119.9" y="362.28" font-size="9.6" font-weight="bold" text-anchor="middle" fill="#000" textLength="23" lengthAdjust="spacingAndGlyphs">A413</text>
<text x="51.4" y="475.54" font-size="8.8" font-weight="bold" text-anchor="end" fill="#1e1e1e" textLength="4.2" lengthAdjust="spacingAndGlyphs" stroke="#1e1e1e" stroke-width="0.25">0</text>
<line x1="56.3" y1="472.9" x2="58.5" y2="472.9" stroke="#b0b0b0" stroke-width="0.8"/>
<text x="51.4" y="457.34" font-size="8.8" font-weight="bold" text-anchor="end" fill="#1e1e1e" textLength="8.4" lengthAdjust="spacingAndGlyphs" stroke="#1e1e1e" stroke-width="0.25">20</text>
<line x1="56.3" y1="454.7" x2="58.5" y2="454.7" stroke="#b0b0b0" stroke-width="0.8"/>
<text x="51.4" y="439.14" font-size="8.8" font-weight="bold" text-anchor="end" fill="#1e1e1e" textLength="8.4" lengthAdjust="spacingAndGlyphs" stroke="#1e1e1e" stroke-width="0.25">40</text>
<line x1="56.3" y1="436.5" x2="58.5" y2="436.5" stroke="#b0b0b0" stroke-width="0.8"/>
<text x="51.4" y="420.94" font-size="8.8" font-weight="bold" text-anchor="end" fill="#1e1e1e" textLength="8.4" lengthAdjust="spacingAndGlyphs" stroke="#1e1e1e" stroke-width="0.25">60</text>
<line x1="56.3" y1="418.3" x2="58.5" y2="418.3" stroke="#b0b0b0" stroke-width="0.8"/>
<text x="51.4" y="402.74" font-size="8.8" font-weight="bold" text-anchor="end" fill="#1e1e1e" textLength="8.4" lengthAdjust="spacingAndGlyphs" stroke="#1e1e1e" stroke-width="0.25">80</text>
<line x1="56.3" y1="400.1" x2="58.5" y2="400.1" stroke="#b0b0b0" stroke-width="0.8"/>
<text x="51.4" y="384.54" font-size="8.8" font-weight="bold" text-anchor="end" fill="#1e1e1e" textLength="12.6" lengthAdjust="spacingAndGlyphs" stroke="#1e1e1e" stroke-width="0.25">100</text>
<line x1="56.3" y1="381.9" x2="58.5" y2="381.9" stroke="#b0b0b0" stroke-width="0.8"/>
<text x="51.4" y="366.34" font-size="8.8" font-weight="bold" text-anchor="end" fill="#1e1e1e" textLength="12.6" lengthAdjust="spacingAndGlyphs" stroke="#1e1e1e" stroke-width="0.25">120</text>
<line x1="56.3" y1="363.7" x2="58.5" y2="363.7" stroke="#b0b0b0" stroke-width="0.8"/>
<line x1="58.5" y1="363.7" x2="58.5" y2="474.7" stroke="#b0b0b0" stroke-width="1"/>
<line x1="58" y1="473.2" x2="176.5" y2="473.2" stroke="#b0b0b0" stroke-width="1"/>
<line x1="88" y1="473.2" x2="88" y2="475.7" stroke="#b0b0b0" stroke-width="0.8"/>
<line x1="117.5" y1="473.2" x2="117.5" y2="475.7" stroke="#b0b0b0" stroke-width="0.8"/>
<line x1="147" y1="473.2" x2="147" y2="475.7" stroke="#b0b0b0" stroke-width="0.8"/>
<line x1="176.5" y1="473.2" x2="176.5" y2="475.7" stroke="#b0b0b0" stroke-width="0.8"/>
<text x="70.9" y="486.8" font-size="7" font-weight="bold" text-anchor="middle" fill="#222" textLength="11.6" lengthAdjust="spacingAndGlyphs">Con.</text>
<text x="101.2" y="486.8" font-size="7" font-weight="bold" text-anchor="middle" fill="#222" textLength="24.2" lengthAdjust="spacingAndGlyphs">1 µmol/L</text>
<text x="131.9" y="486.8" font-size="7" font-weight="bold" text-anchor="middle" fill="#222" textLength="24.2" lengthAdjust="spacingAndGlyphs">5 µmol/L</text>
<text x="162.65" y="486.8" font-size="7" font-weight="bold" text-anchor="middle" fill="#222" textLength="26.8" lengthAdjust="spacingAndGlyphs">10 µmol/L</text>
<line x1="73.25" y1="369.16" x2="73.25" y2="394.64" stroke="#333" stroke-width="0.8"/>
<line x1="71.85" y1="369.16" x2="74.65" y2="369.16" stroke="#333" stroke-width="0.8"/>
<line x1="71.85" y1="394.64" x2="74.65" y2="394.64" stroke="#333" stroke-width="0.8"/>
<line x1="102.75" y1="377.35" x2="102.75" y2="399.19" stroke="#333" stroke-width="0.8"/>
<line x1="101.35" y1="377.35" x2="104.15" y2="377.35" stroke="#333" stroke-width="0.8"/>
<line x1="101.35" y1="399.19" x2="104.15" y2="399.19" stroke="#333" stroke-width="0.8"/>
<line x1="132.25" y1="380.63" x2="132.25" y2="400.65" stroke="#333" stroke-width="0.8"/>
<line x1="130.85" y1="380.63" x2="133.65" y2="380.63" stroke="#333" stroke-width="0.8"/>
<line x1="130.85" y1="400.65" x2="133.65" y2="400.65" stroke="#333" stroke-width="0.8"/>
<line x1="73.25" y1="369.16" x2="73.25" y2="394.64" stroke="#333" stroke-width="0.8"/>
<line x1="71.85" y1="369.16" x2="74.65" y2="369.16" stroke="#333" stroke-width="0.8"/>
<line x1="71.85" y1="394.64" x2="74.65" y2="394.64" stroke="#333" stroke-width="0.8"/>
<line x1="102.75" y1="380.53" x2="102.75" y2="402.38" stroke="#333" stroke-width="0.8"/>
<line x1="101.35" y1="380.53" x2="104.15" y2="380.53" stroke="#333" stroke-width="0.8"/>
<line x1="101.35" y1="402.38" x2="104.15" y2="402.38" stroke="#333" stroke-width="0.8"/>
<line x1="132.25" y1="387.81" x2="132.25" y2="409.65" stroke="#333" stroke-width="0.8"/>
<line x1="130.85" y1="387.81" x2="133.65" y2="387.81" stroke="#333" stroke-width="0.8"/>
<line x1="130.85" y1="409.65" x2="133.65" y2="409.65" stroke="#333" stroke-width="0.8"/>
<line x1="161.75" y1="449.79" x2="161.75" y2="453.43" stroke="#333" stroke-width="0.8"/>
<line x1="160.35" y1="449.79" x2="163.15" y2="449.79" stroke="#333" stroke-width="0.8"/>
<line x1="160.35" y1="453.43" x2="163.15" y2="453.43" stroke="#333" stroke-width="0.8"/>
<polyline points="73.25,381.9 102.75,388.27 132.25,390.64 161.75,460.34" fill="none" stroke="#4a7ebb" stroke-width="1.6" stroke-linejoin="round"/>
<polyline points="73.25,381.9 102.75,391.45 132.25,398.73 161.75,451.61" fill="none" stroke="#c0504d" stroke-width="1.6" stroke-linejoin="round"/>
<path d="M73.25 379.3L75.85 381.9L73.25 384.5L70.65 381.9Z" fill="#4a7ebb"/>
<path d="M102.75 385.67L105.35 388.27L102.75 390.87L100.15 388.27Z" fill="#4a7ebb"/>
<path d="M132.25 388.04L134.85 390.64L132.25 393.24L129.65 390.64Z" fill="#4a7ebb"/>
<path d="M161.75 457.74L164.35 460.34L161.75 462.94L159.15 460.34Z" fill="#4a7ebb"/>
<rect x="70.35" y="379" width="5.8" height="5.8" fill="#c0504d"/>
<rect x="99.85" y="388.56" width="5.8" height="5.8" fill="#c0504d"/>
<rect x="129.35" y="395.83" width="5.8" height="5.8" fill="#c0504d"/>
<rect x="158.85" y="448.71" width="5.8" height="5.8" fill="#c0504d"/>
<line x1="75.4" y1="438.7" x2="92.2" y2="438.7" stroke="#4a7ebb" stroke-width="1.4"/>
<path d="M83.8 437L85.5 438.7L83.8 440.4L82.1 438.7Z" fill="#4a7ebb"/>
<line x1="75.4" y1="447.1" x2="92.2" y2="447.1" stroke="#c0504d" stroke-width="1.4"/>
<rect x="82" y="445.3" width="3.6" height="3.6" fill="#c0504d"/>
<text x="92.7" y="440.59" font-size="6.3" font-weight="bold" text-anchor="start" fill="#1e1e1e" textLength="33.6" lengthAdjust="spacingAndGlyphs" stroke="#1e1e1e" stroke-width="0.15">SKGT-4 Dox -</text>
<text x="92.7" y="448.99" font-size="6.3" font-weight="bold" text-anchor="start" fill="#1e1e1e" textLength="34.2" lengthAdjust="spacingAndGlyphs" stroke="#1e1e1e" stroke-width="0.15">SKGT-4 Dox +</text>
<text x="0" y="0" transform="translate(32.7,419.8) rotate(-90)" font-size="7" font-weight="normal" text-anchor="middle" fill="#2a2a2a" textLength="105.4" lengthAdjust="spacingAndGlyphs" stroke="#2a2a2a" stroke-width="0.15">Cell growth inhibition (% of control)</text>
<text x="261.2" y="364.78" font-size="9.6" font-weight="bold" text-anchor="middle" fill="#000" textLength="22.8" lengthAdjust="spacingAndGlyphs">A433</text>
<text x="203.5" y="479.84" font-size="8.8" font-weight="bold" text-anchor="end" fill="#1e1e1e" textLength="4.2" lengthAdjust="spacingAndGlyphs" stroke="#1e1e1e" stroke-width="0.25">0</text>
<line x1="209.4" y1="477.2" x2="211.6" y2="477.2" stroke="#b0b0b0" stroke-width="0.8"/>
<text x="203.5" y="465.19" font-size="8.8" font-weight="bold" text-anchor="end" fill="#1e1e1e" textLength="8.4" lengthAdjust="spacingAndGlyphs" stroke="#1e1e1e" stroke-width="0.25">20</text>
<line x1="209.4" y1="462.55" x2="211.6" y2="462.55" stroke="#b0b0b0" stroke-width="0.8"/>
<text x="203.5" y="450.54" font-size="8.8" font-weight="bold" text-anchor="end" fill="#1e1e1e" textLength="8.4" lengthAdjust="spacingAndGlyphs" stroke="#1e1e1e" stroke-width="0.25">40</text>
<line x1="209.4" y1="447.9" x2="211.6" y2="447.9" stroke="#b0b0b0" stroke-width="0.8"/>
<text x="203.5" y="435.89" font-size="8.8" font-weight="bold" text-anchor="end" fill="#1e1e1e" textLength="8.4" lengthAdjust="spacingAndGlyphs" stroke="#1e1e1e" stroke-width="0.25">60</text>
<line x1="209.4" y1="433.25" x2="211.6" y2="433.25" stroke="#b0b0b0" stroke-width="0.8"/>
<text x="203.5" y="421.24" font-size="8.8" font-weight="bold" text-anchor="end" fill="#1e1e1e" textLength="8.4" lengthAdjust="spacingAndGlyphs" stroke="#1e1e1e" stroke-width="0.25">80</text>
<line x1="209.4" y1="418.6" x2="211.6" y2="418.6" stroke="#b0b0b0" stroke-width="0.8"/>
<text x="203.5" y="406.59" font-size="8.8" font-weight="bold" text-anchor="end" fill="#1e1e1e" textLength="12.6" lengthAdjust="spacingAndGlyphs" stroke="#1e1e1e" stroke-width="0.25">100</text>
<line x1="209.4" y1="403.95" x2="211.6" y2="403.95" stroke="#b0b0b0" stroke-width="0.8"/>
<text x="203.5" y="391.94" font-size="8.8" font-weight="bold" text-anchor="end" fill="#1e1e1e" textLength="12.6" lengthAdjust="spacingAndGlyphs" stroke="#1e1e1e" stroke-width="0.25">120</text>
<line x1="209.4" y1="389.3" x2="211.6" y2="389.3" stroke="#b0b0b0" stroke-width="0.8"/>
<text x="203.5" y="377.29" font-size="8.8" font-weight="bold" text-anchor="end" fill="#1e1e1e" textLength="12.6" lengthAdjust="spacingAndGlyphs" stroke="#1e1e1e" stroke-width="0.25">140</text>
<line x1="209.4" y1="374.65" x2="211.6" y2="374.65" stroke="#b0b0b0" stroke-width="0.8"/>
<text x="203.5" y="362.64" font-size="8.8" font-weight="bold" text-anchor="end" fill="#1e1e1e" textLength="12.6" lengthAdjust="spacingAndGlyphs" stroke="#1e1e1e" stroke-width="0.25">160</text>
<line x1="209.4" y1="360" x2="211.6" y2="360" stroke="#b0b0b0" stroke-width="0.8"/>
<line x1="211.6" y1="360" x2="211.6" y2="479" stroke="#b0b0b0" stroke-width="1"/>
<line x1="211.1" y1="477.5" x2="333" y2="477.5" stroke="#b0b0b0" stroke-width="1"/>
<line x1="241.95" y1="477.5" x2="241.95" y2="480" stroke="#b0b0b0" stroke-width="0.8"/>
<line x1="272.3" y1="477.5" x2="272.3" y2="480" stroke="#b0b0b0" stroke-width="0.8"/>
<line x1="302.65" y1="477.5" x2="302.65" y2="480" stroke="#b0b0b0" stroke-width="0.8"/>
<line x1="333" y1="477.5" x2="333" y2="480" stroke="#b0b0b0" stroke-width="0.8"/>
<text x="223.78" y="488.1" font-size="7" font-weight="bold" text-anchor="middle" fill="#222" textLength="11.6" lengthAdjust="spacingAndGlyphs">Con.</text>
<text x="255.22" y="488.1" font-size="7" font-weight="bold" text-anchor="middle" fill="#222" textLength="24.2" lengthAdjust="spacingAndGlyphs">1 µmol/L</text>
<text x="285.58" y="488.1" font-size="7" font-weight="bold" text-anchor="middle" fill="#222" textLength="24.2" lengthAdjust="spacingAndGlyphs">5 µmol/L</text>
<text x="317.32" y="488.1" font-size="7" font-weight="bold" text-anchor="middle" fill="#222" textLength="26.8" lengthAdjust="spacingAndGlyphs">10 µmol/L</text>
<line x1="226.78" y1="397.36" x2="226.78" y2="410.54" stroke="#333" stroke-width="0.8"/>
<line x1="225.38" y1="397.36" x2="228.18" y2="397.36" stroke="#333" stroke-width="0.8"/>
<line x1="225.38" y1="410.54" x2="228.18" y2="410.54" stroke="#333" stroke-width="0.8"/>
<line x1="257.12" y1="397.36" x2="257.12" y2="410.54" stroke="#333" stroke-width="0.8"/>
<line x1="255.72" y1="397.36" x2="258.52" y2="397.36" stroke="#333" stroke-width="0.8"/>
<line x1="255.72" y1="410.54" x2="258.52" y2="410.54" stroke="#333" stroke-width="0.8"/>
<line x1="287.48" y1="395.16" x2="287.48" y2="412.74" stroke="#333" stroke-width="0.8"/>
<line x1="286.08" y1="395.16" x2="288.88" y2="395.16" stroke="#333" stroke-width="0.8"/>
<line x1="286.08" y1="412.74" x2="288.88" y2="412.74" stroke="#333" stroke-width="0.8"/>
<line x1="317.82" y1="398.82" x2="317.82" y2="409.08" stroke="#333" stroke-width="0.8"/>
<line x1="316.43" y1="398.82" x2="319.22" y2="398.82" stroke="#333" stroke-width="0.8"/>
<line x1="316.43" y1="409.08" x2="319.22" y2="409.08" stroke="#333" stroke-width="0.8"/>
<line x1="226.78" y1="397.36" x2="226.78" y2="410.54" stroke="#333" stroke-width="0.8"/>
<line x1="225.38" y1="397.36" x2="228.18" y2="397.36" stroke="#333" stroke-width="0.8"/>
<line x1="225.38" y1="410.54" x2="228.18" y2="410.54" stroke="#333" stroke-width="0.8"/>
<line x1="257.12" y1="382.71" x2="257.12" y2="391.5" stroke="#333" stroke-width="0.8"/>
<line x1="255.72" y1="382.71" x2="258.52" y2="382.71" stroke="#333" stroke-width="0.8"/>
<line x1="255.72" y1="391.5" x2="258.52" y2="391.5" stroke="#333" stroke-width="0.8"/>
<line x1="287.48" y1="375.38" x2="287.48" y2="387.1" stroke="#333" stroke-width="0.8"/>
<line x1="286.08" y1="375.38" x2="288.88" y2="375.38" stroke="#333" stroke-width="0.8"/>
<line x1="286.08" y1="387.1" x2="288.88" y2="387.1" stroke="#333" stroke-width="0.8"/>
<line x1="317.82" y1="381.97" x2="317.82" y2="393.69" stroke="#333" stroke-width="0.8"/>
<line x1="316.43" y1="381.97" x2="319.22" y2="381.97" stroke="#333" stroke-width="0.8"/>
<line x1="316.43" y1="393.69" x2="319.22" y2="393.69" stroke="#333" stroke-width="0.8"/>
<polyline points="226.78,403.95 257.12,403.95 287.48,403.95 317.82,403.95" fill="none" stroke="#4a7ebb" stroke-width="1.6" stroke-linejoin="round"/>
<polyline points="226.78,403.95 257.12,387.1 287.48,381.24 317.82,387.83" fill="none" stroke="#c0504d" stroke-width="1.6" stroke-linejoin="round"/>
<path d="M226.78 401.35L229.38 403.95L226.78 406.55L224.18 403.95Z" fill="#4a7ebb"/>
<path d="M257.12 401.35L259.73 403.95L257.12 406.55L254.53 403.95Z" fill="#4a7ebb"/>
<path d="M287.48 401.35L290.08 403.95L287.48 406.55L284.88 403.95Z" fill="#4a7ebb"/>
<path d="M317.82 401.35L320.43 403.95L317.82 406.55L315.22 403.95Z" fill="#4a7ebb"/>
<rect x="223.88" y="401.05" width="5.8" height="5.8" fill="#c0504d"/>
<rect x="254.22" y="384.2" width="5.8" height="5.8" fill="#c0504d"/>
<rect x="284.58" y="378.34" width="5.8" height="5.8" fill="#c0504d"/>
<rect x="314.93" y="384.94" width="5.8" height="5.8" fill="#c0504d"/>
<line x1="241.8" y1="429.3" x2="258.8" y2="429.3" stroke="#4a7ebb" stroke-width="1.9"/>
<path d="M250.3 427.5L252.1 429.3L250.3 431.1L248.5 429.3Z" fill="#4a7ebb"/>
<line x1="241.8" y1="448.4" x2="258.8" y2="448.4" stroke="#c0504d" stroke-width="1.9"/>
<rect x="247.9" y="446" width="4.8" height="4.8" fill="#c0504d"/>
<text x="259.6" y="431.22" font-size="6.4" font-weight="normal" text-anchor="start" fill="#222">SKGT-4</text>
<text x="259.6" y="439.42" font-size="6.4" font-weight="normal" text-anchor="start" fill="#222">Dox -</text>
<text x="259.6" y="450.32" font-size="6.4" font-weight="normal" text-anchor="start" fill="#222">SKGT-4</text>
<text x="259.6" y="458.32" font-size="6.4" font-weight="normal" text-anchor="start" fill="#222">Dox +</text>
<text x="424.55" y="364.88" font-size="9.6" font-weight="bold" text-anchor="middle" fill="#000" textLength="11.9" lengthAdjust="spacingAndGlyphs">VP</text>
<text x="358.5" y="480.94" font-size="8.8" font-weight="bold" text-anchor="end" fill="#1e1e1e" textLength="4.2" lengthAdjust="spacingAndGlyphs" stroke="#1e1e1e" stroke-width="0.25">0</text>
<line x1="359.4" y1="478.3" x2="361.6" y2="478.3" stroke="#b0b0b0" stroke-width="0.8"/>
<text x="358.5" y="460.94" font-size="8.8" font-weight="bold" text-anchor="end" fill="#1e1e1e" textLength="8.4" lengthAdjust="spacingAndGlyphs" stroke="#1e1e1e" stroke-width="0.25">20</text>
<line x1="359.4" y1="458.3" x2="361.6" y2="458.3" stroke="#b0b0b0" stroke-width="0.8"/>
<text x="358.5" y="440.94" font-size="8.8" font-weight="bold" text-anchor="end" fill="#1e1e1e" textLength="8.4" lengthAdjust="spacingAndGlyphs" stroke="#1e1e1e" stroke-width="0.25">40</text>
<line x1="359.4" y1="438.3" x2="361.6" y2="438.3" stroke="#b0b0b0" stroke-width="0.8"/>
<text x="358.5" y="420.94" font-size="8.8" font-weight="bold" text-anchor="end" fill="#1e1e1e" textLength="8.4" lengthAdjust="spacingAndGlyphs" stroke="#1e1e1e" stroke-width="0.25">60</text>
<line x1="359.4" y1="418.3" x2="361.6" y2="418.3" stroke="#b0b0b0" stroke-width="0.8"/>
<text x="358.5" y="400.94" font-size="8.8" font-weight="bold" text-anchor="end" fill="#1e1e1e" textLength="8.4" lengthAdjust="spacingAndGlyphs" stroke="#1e1e1e" stroke-width="0.25">80</text>
<line x1="359.4" y1="398.3" x2="361.6" y2="398.3" stroke="#b0b0b0" stroke-width="0.8"/>
<text x="358.5" y="380.94" font-size="8.8" font-weight="bold" text-anchor="end" fill="#1e1e1e" textLength="12.6" lengthAdjust="spacingAndGlyphs" stroke="#1e1e1e" stroke-width="0.25">100</text>
<line x1="359.4" y1="378.3" x2="361.6" y2="378.3" stroke="#b0b0b0" stroke-width="0.8"/>
<text x="358.5" y="360.94" font-size="8.8" font-weight="bold" text-anchor="end" fill="#1e1e1e" textLength="12.6" lengthAdjust="spacingAndGlyphs" stroke="#1e1e1e" stroke-width="0.25">120</text>
<line x1="359.4" y1="358.3" x2="361.6" y2="358.3" stroke="#b0b0b0" stroke-width="0.8"/>
<line x1="361.6" y1="358.3" x2="361.6" y2="480.1" stroke="#b0b0b0" stroke-width="1"/>
<line x1="361.1" y1="478.6" x2="474.4" y2="478.6" stroke="#b0b0b0" stroke-width="1"/>
<line x1="389.8" y1="478.6" x2="389.8" y2="481.1" stroke="#b0b0b0" stroke-width="0.8"/>
<line x1="418" y1="478.6" x2="418" y2="481.1" stroke="#b0b0b0" stroke-width="0.8"/>
<line x1="446.2" y1="478.6" x2="446.2" y2="481.1" stroke="#b0b0b0" stroke-width="0.8"/>
<line x1="474.4" y1="478.6" x2="474.4" y2="481.1" stroke="#b0b0b0" stroke-width="0.8"/>
<text x="371.5" y="490.3" font-size="7" font-weight="bold" text-anchor="middle" fill="#222" textLength="11.6" lengthAdjust="spacingAndGlyphs">Con.</text>
<text x="401.8" y="490.3" font-size="7" font-weight="bold" text-anchor="middle" fill="#222" textLength="24.2" lengthAdjust="spacingAndGlyphs">1 µmol/L</text>
<text x="432.1" y="490.3" font-size="7" font-weight="bold" text-anchor="middle" fill="#222" textLength="24.2" lengthAdjust="spacingAndGlyphs">5 µmol/L</text>
<text x="463.2" y="490.3" font-size="7" font-weight="bold" text-anchor="middle" fill="#222" textLength="26.8" lengthAdjust="spacingAndGlyphs">10 µmol/L</text>
<line x1="375.7" y1="373.3" x2="375.7" y2="383.3" stroke="#333" stroke-width="0.8"/>
<line x1="374.3" y1="373.3" x2="377.1" y2="373.3" stroke="#333" stroke-width="0.8"/>
<line x1="374.3" y1="383.3" x2="377.1" y2="383.3" stroke="#333" stroke-width="0.8"/>
<line x1="403.9" y1="378.6" x2="403.9" y2="392.6" stroke="#333" stroke-width="0.8"/>
<line x1="402.5" y1="378.6" x2="405.3" y2="378.6" stroke="#333" stroke-width="0.8"/>
<line x1="402.5" y1="392.6" x2="405.3" y2="392.6" stroke="#333" stroke-width="0.8"/>
<line x1="432.1" y1="382.3" x2="432.1" y2="392.3" stroke="#333" stroke-width="0.8"/>
<line x1="430.7" y1="382.3" x2="433.5" y2="382.3" stroke="#333" stroke-width="0.8"/>
<line x1="430.7" y1="392.3" x2="433.5" y2="392.3" stroke="#333" stroke-width="0.8"/>
<line x1="460.3" y1="410.3" x2="460.3" y2="426.3" stroke="#333" stroke-width="0.8"/>
<line x1="458.9" y1="410.3" x2="461.7" y2="410.3" stroke="#333" stroke-width="0.8"/>
<line x1="458.9" y1="426.3" x2="461.7" y2="426.3" stroke="#333" stroke-width="0.8"/>
<line x1="375.7" y1="373.3" x2="375.7" y2="383.3" stroke="#333" stroke-width="0.8"/>
<line x1="374.3" y1="373.3" x2="377.1" y2="373.3" stroke="#333" stroke-width="0.8"/>
<line x1="374.3" y1="383.3" x2="377.1" y2="383.3" stroke="#333" stroke-width="0.8"/>
<line x1="403.9" y1="379.6" x2="403.9" y2="391.6" stroke="#333" stroke-width="0.8"/>
<line x1="402.5" y1="379.6" x2="405.3" y2="379.6" stroke="#333" stroke-width="0.8"/>
<line x1="402.5" y1="391.6" x2="405.3" y2="391.6" stroke="#333" stroke-width="0.8"/>
<line x1="432.1" y1="391.3" x2="432.1" y2="399.3" stroke="#333" stroke-width="0.8"/>
<line x1="430.7" y1="391.3" x2="433.5" y2="391.3" stroke="#333" stroke-width="0.8"/>
<line x1="430.7" y1="399.3" x2="433.5" y2="399.3" stroke="#333" stroke-width="0.8"/>
<line x1="460.3" y1="431.3" x2="460.3" y2="435.3" stroke="#333" stroke-width="0.8"/>
<line x1="458.9" y1="431.3" x2="461.7" y2="431.3" stroke="#333" stroke-width="0.8"/>
<line x1="458.9" y1="435.3" x2="461.7" y2="435.3" stroke="#333" stroke-width="0.8"/>
<polyline points="375.7,378.3 403.9,385.6 432.1,387.3 460.3,418.3" fill="none" stroke="#4a7ebb" stroke-width="1.6" stroke-linejoin="round"/>
<polyline points="375.7,378.3 403.9,385.6 432.1,395.3 460.3,433.3" fill="none" stroke="#c0504d" stroke-width="1.6" stroke-linejoin="round"/>
<path d="M375.7 376.22L377.78 378.3L375.7 380.38L373.62 378.3Z" fill="#4a7ebb"/>
<path d="M403.9 383.52L405.98 385.6L403.9 387.68L401.82 385.6Z" fill="#4a7ebb"/>
<path d="M432.1 385.22L434.18 387.3L432.1 389.38L430.02 387.3Z" fill="#4a7ebb"/>
<path d="M460.3 416.22L462.38 418.3L460.3 420.38L458.22 418.3Z" fill="#4a7ebb"/>
<rect x="373.38" y="375.98" width="4.64" height="4.64" fill="#c0504d"/>
<rect x="401.58" y="383.28" width="4.64" height="4.64" fill="#c0504d"/>
<rect x="429.78" y="392.98" width="4.64" height="4.64" fill="#c0504d"/>
<rect x="457.98" y="430.98" width="4.64" height="4.64" fill="#c0504d"/>
<line x1="392" y1="432.2" x2="403" y2="432.2" stroke="#4a7ebb" stroke-width="1.4"/>
<path d="M397.5 430.5L399.2 432.2L397.5 433.9L395.8 432.2Z" fill="#4a7ebb"/>
<line x1="392" y1="442.6" x2="403" y2="442.6" stroke="#c0504d" stroke-width="1.4"/>
<rect x="395.7" y="440.8" width="3.6" height="3.6" fill="#c0504d"/>
<text x="403.5" y="433.82" font-size="5.4" font-weight="bold" text-anchor="start" fill="#1e1e1e" textLength="27.6" lengthAdjust="spacingAndGlyphs" stroke="#1e1e1e" stroke-width="0.15">SKGT-4 DOX-</text>
<text x="403.5" y="444.22" font-size="5.4" font-weight="bold" text-anchor="start" fill="#1e1e1e" textLength="28.2" lengthAdjust="spacingAndGlyphs" stroke="#1e1e1e" stroke-width="0.15">SKGT-4 DOX+</text>
<text x="0" y="517.8" font-size="14" font-weight="bold" text-anchor="start" fill="#000">D</text>
<text x="157.85" y="523.54" font-size="8.8" font-weight="bold" text-anchor="middle" fill="#1a1a1a" textLength="86.9" lengthAdjust="spacingAndGlyphs">SKGT-4(PIN20-YAP1)</text>
<line x1="91.9" y1="528.4" x2="220.4" y2="528.4" stroke="#111" stroke-width="1.5"/>
<text x="35.2" y="545.37" font-size="8.9" font-weight="bold" text-anchor="start" fill="#262626" textLength="58.5" lengthAdjust="spacingAndGlyphs">YAP1 Inhibitors</text>
<text x="0" y="0" transform="translate(132.3,550.9) rotate(-90)" font-size="8.8" font-weight="normal" text-anchor="start" fill="#1a1a1a" textLength="14.6" lengthAdjust="spacingAndGlyphs" stroke="#1a1a1a" stroke-width="0.25">CA3</text>
<text x="0" y="0" transform="translate(149.1,550.9) rotate(-90)" font-size="8.8" font-weight="normal" text-anchor="start" fill="#1a1a1a" textLength="17.6" lengthAdjust="spacingAndGlyphs" stroke="#1a1a1a" stroke-width="0.25">A414</text>
<text x="0" y="0" transform="translate(165.5,550.9) rotate(-90)" font-size="8.8" font-weight="normal" text-anchor="start" fill="#1a1a1a" textLength="17.6" lengthAdjust="spacingAndGlyphs" stroke="#1a1a1a" stroke-width="0.25">A432</text>
<text x="0" y="0" transform="translate(185.5,550.9) rotate(-90)" font-size="8.8" font-weight="normal" text-anchor="start" fill="#1a1a1a" textLength="17.6" lengthAdjust="spacingAndGlyphs" stroke="#1a1a1a" stroke-width="0.25">A413</text>
<text x="0" y="0" transform="translate(200.3,550.9) rotate(-90)" font-size="8.8" font-weight="normal" text-anchor="start" fill="#1a1a1a" textLength="17.6" lengthAdjust="spacingAndGlyphs" stroke="#1a1a1a" stroke-width="0.25">A433</text>
<text x="0" y="0" transform="translate(217.5,550.9) rotate(-90)" font-size="8.8" font-weight="normal" text-anchor="start" fill="#1a1a1a" textLength="10.4" lengthAdjust="spacingAndGlyphs" stroke="#1a1a1a" stroke-width="0.25">VP</text>
<line x1="108.4" y1="552.7" x2="222.1" y2="552.7" stroke="#111" stroke-width="1.7"/>
<text x="65.7" y="560.39" font-size="8.3" font-weight="bold" text-anchor="start" fill="#262626" textLength="15.2" lengthAdjust="spacingAndGlyphs">DOX</text>
<text x="93.8" y="561.5" font-size="9" font-weight="bold" text-anchor="middle" fill="#222">-</text>
<text x="111.8" y="562.3" font-size="10" font-weight="bold" text-anchor="middle" fill="#222" stroke="#222" stroke-width="0.3">+</text>
<text x="129.1" y="562.3" font-size="10" font-weight="bold" text-anchor="middle" fill="#222" stroke="#222" stroke-width="0.3">+</text>
<text x="145.6" y="562.3" font-size="10" font-weight="bold" text-anchor="middle" fill="#222" stroke="#222" stroke-width="0.3">+</text>
<text x="161.1" y="562.3" font-size="10" font-weight="bold" text-anchor="middle" fill="#222" stroke="#222" stroke-width="0.3">+</text>
<text x="181.8" y="562.3" font-size="10" font-weight="bold" text-anchor="middle" fill="#222" stroke="#222" stroke-width="0.3">+</text>
<text x="197" y="562.3" font-size="10" font-weight="bold" text-anchor="middle" fill="#222" stroke="#222" stroke-width="0.3">+</text>
<text x="216" y="562.3" font-size="10" font-weight="bold" text-anchor="middle" fill="#222" stroke="#222" stroke-width="0.3">+</text>
<rect x="86.7" y="564.1" width="143.8" height="15.4" fill="#c6c6c6"/>
<rect x="86.7" y="583.8" width="143.8" height="19.5" fill="#c4c4c4"/>
<text x="83.3" y="578.82" font-size="9.4" font-weight="bold" text-anchor="end" fill="#1e1e1e" textLength="20.6" lengthAdjust="spacingAndGlyphs" stroke="#1e1e1e" stroke-width="0.2">YAP1</text>
<text x="58.3" y="594.68" font-size="8.6" fill="#262626" textLength="24.9" lengthAdjust="spacingAndGlyphs"><tspan font-weight="normal">β</tspan><tspan font-weight="bold" stroke="#262626" stroke-width="0.2">-Actin</tspan></text>
<rect x="89.8" y="572.3" width="14" height="2.7" rx="1.2" fill="#a6a6a6" filter="url(#blur1)"/>
<rect x="108.2" y="570.2" width="13.5" height="4.8" rx="1.2" fill="#545454" filter="url(#blur1)"/>
<rect x="127.2" y="570.6" width="11.8" height="3.7" rx="1.2" fill="#8e8e8e" filter="url(#blur1)"/>
<rect x="144.5" y="569.9" width="12.9" height="4.8" rx="1.2" fill="#5c5c5c" filter="url(#blur1)"/>
<rect x="162.4" y="569.6" width="12.8" height="4.6" rx="1.2" fill="#606060" filter="url(#blur1)"/>
<rect x="180.4" y="569.6" width="13.2" height="4.6" rx="1.2" fill="#5a5a5a" filter="url(#blur1)"/>
<rect x="198.8" y="569.6" width="12.6" height="4.6" rx="1.2" fill="#616161" filter="url(#blur1)"/>
<rect x="216.5" y="569.8" width="11.8" height="4.2" rx="1.2" fill="#878787" filter="url(#blur1)"/>
<path d="M87.3 591 C87.3 588.6 89 588.6 92 589.2 L98.6 590 L128 591 L157 591.2 L172 591.9 L186 592 L200 591.6 L216 590.8 L230.3 589.1 L230.3 593.3 L216 594.7 L200 595.6 L186 596.2 L172 595.7 L157 595.2 L128 595.4 L98.6 593.9 L92 594 C89 594.4 87.3 594 87.3 591 Z" fill="#111" filter="url(#blur1)"/>
<text x="269.2" y="517.8" font-size="14" font-weight="bold" text-anchor="start" fill="#000">E</text>
<line x1="300.4" y1="543.1" x2="308.5" y2="528.5" stroke="#3c3c3c" stroke-width="1.2" stroke-linecap="round"/>
<line x1="308.5" y1="528.5" x2="324.2" y2="528.5" stroke="#3c3c3c" stroke-width="1.2" stroke-linecap="round"/>
<line x1="324.2" y1="528.5" x2="332.7" y2="543.1" stroke="#3c3c3c" stroke-width="1.2" stroke-linecap="round"/>
<line x1="332.7" y1="543.1" x2="326.15" y2="555.09" stroke="#3c3c3c" stroke-width="1.2" stroke-linecap="round"/>
<line x1="322.6" y1="557.27" x2="308.8" y2="557.7" stroke="#3c3c3c" stroke-width="1.2" stroke-linecap="round"/>
<line x1="308.8" y1="557.7" x2="300.4" y2="543.1" stroke="#3c3c3c" stroke-width="1.2" stroke-linecap="round"/>
<line x1="445.4" y1="543.1" x2="453.5" y2="528.5" stroke="#3c3c3c" stroke-width="1.2" stroke-linecap="round"/>
<line x1="453.5" y1="528.5" x2="470" y2="528.5" stroke="#3c3c3c" stroke-width="1.2" stroke-linecap="round"/>
<line x1="470" y1="528.5" x2="478.5" y2="543.1" stroke="#3c3c3c" stroke-width="1.2" stroke-linecap="round"/>
<line x1="478.5" y1="543.1" x2="470" y2="557.7" stroke="#3c3c3c" stroke-width="1.2" stroke-linecap="round"/>
<line x1="470" y1="557.7" x2="456.6" y2="557.28" stroke="#3c3c3c" stroke-width="1.2" stroke-linecap="round"/>
<line x1="452.93" y1="555.16" x2="445.4" y2="543.1" stroke="#3c3c3c" stroke-width="1.2" stroke-linecap="round"/>
<line x1="347.9" y1="569.6" x2="353.7" y2="553.3" stroke="#3c3c3c" stroke-width="1.2" stroke-linecap="round"/>
<line x1="353.7" y1="553.3" x2="370" y2="549.4" stroke="#3c3c3c" stroke-width="1.2" stroke-linecap="round"/>
<line x1="370" y1="549.4" x2="380.6" y2="561.9" stroke="#3c3c3c" stroke-width="1.2" stroke-linecap="round"/>
<line x1="380.6" y1="561.9" x2="375.8" y2="578.8" stroke="#3c3c3c" stroke-width="1.2" stroke-linecap="round"/>
<line x1="375.8" y1="578.8" x2="360.4" y2="581.5" stroke="#3c3c3c" stroke-width="1.2" stroke-linecap="round"/>
<line x1="360.4" y1="581.5" x2="347.9" y2="569.6" stroke="#3c3c3c" stroke-width="1.2" stroke-linecap="round"/>
<line x1="429.6" y1="569.6" x2="424.8" y2="553.3" stroke="#3c3c3c" stroke-width="1.2" stroke-linecap="round"/>
<line x1="424.8" y1="553.3" x2="408.5" y2="549.4" stroke="#3c3c3c" stroke-width="1.2" stroke-linecap="round"/>
<line x1="408.5" y1="549.4" x2="397.9" y2="561.9" stroke="#3c3c3c" stroke-width="1.2" stroke-linecap="round"/>
<line x1="397.9" y1="561.9" x2="402.7" y2="578.8" stroke="#3c3c3c" stroke-width="1.2" stroke-linecap="round"/>
<line x1="402.7" y1="578.8" x2="419" y2="581.5" stroke="#3c3c3c" stroke-width="1.2" stroke-linecap="round"/>
<line x1="419" y1="581.5" x2="429.6" y2="569.6" stroke="#3c3c3c" stroke-width="1.2" stroke-linecap="round"/>
<line x1="380.6" y1="561.9" x2="397.9" y2="561.9" stroke="#3c3c3c" stroke-width="1.2" stroke-linecap="round"/>
<line x1="375.8" y1="578.8" x2="389.8" y2="588" stroke="#3c3c3c" stroke-width="1.2" stroke-linecap="round"/>
<line x1="402.7" y1="578.8" x2="389.8" y2="588" stroke="#3c3c3c" stroke-width="1.2" stroke-linecap="round"/>
<line x1="356.66" y1="554.85" x2="367.74" y2="552.2" stroke="#3c3c3c" stroke-width="0.95" stroke-linecap="round"/>
<line x1="377.72" y1="563.98" x2="374.46" y2="575.48" stroke="#3c3c3c" stroke-width="0.95" stroke-linecap="round"/>
<line x1="360.02" y1="578.11" x2="351.52" y2="570.01" stroke="#3c3c3c" stroke-width="0.95" stroke-linecap="round"/>
<line x1="421.77" y1="554.84" x2="410.69" y2="552.18" stroke="#3c3c3c" stroke-width="0.95" stroke-linecap="round"/>
<line x1="400.77" y1="563.96" x2="404.04" y2="575.45" stroke="#3c3c3c" stroke-width="0.95" stroke-linecap="round"/>
<line x1="419.05" y1="578.14" x2="426.25" y2="570.05" stroke="#3c3c3c" stroke-width="0.95" stroke-linecap="round"/>
<line x1="347.9" y1="569.6" x2="335.83" y2="572.64" stroke="#3c3c3c" stroke-width="1.2" stroke-linecap="round"/>
<line x1="429.6" y1="569.6" x2="443.06" y2="572.69" stroke="#3c3c3c" stroke-width="1.2" stroke-linecap="round"/>
<line x1="326.09" y1="559.23" x2="332.42" y2="571" stroke="#3c3c3c" stroke-width="1.2" stroke-linecap="round"/>
<line x1="453.08" y1="559.21" x2="446.52" y2="571.02" stroke="#3c3c3c" stroke-width="1.2" stroke-linecap="round"/>
<line x1="330.96" y1="573.32" x2="320.25" y2="578.82" stroke="#3c3c3c" stroke-width="0.95" stroke-linecap="round"/>
<line x1="331.97" y1="575.27" x2="321.26" y2="580.77" stroke="#3c3c3c" stroke-width="0.95" stroke-linecap="round"/>
<line x1="333.74" y1="575.84" x2="338.8" y2="585.46" stroke="#3c3c3c" stroke-width="0.95" stroke-linecap="round"/>
<line x1="335.69" y1="574.81" x2="340.75" y2="584.44" stroke="#3c3c3c" stroke-width="0.95" stroke-linecap="round"/>
<line x1="443.15" y1="574.73" x2="437.55" y2="584.44" stroke="#3c3c3c" stroke-width="0.95" stroke-linecap="round"/>
<line x1="445.05" y1="575.83" x2="439.45" y2="585.54" stroke="#3c3c3c" stroke-width="0.95" stroke-linecap="round"/>
<line x1="446.4" y1="575.6" x2="455.22" y2="583.2" stroke="#3c3c3c" stroke-width="0.95" stroke-linecap="round"/>
<line x1="447.84" y1="573.93" x2="456.65" y2="581.53" stroke="#3c3c3c" stroke-width="0.95" stroke-linecap="round"/>
<text x="333.6" y="575.2" font-size="5.6" font-weight="normal" text-anchor="middle" fill="#444">S</text>
<text x="445.3" y="575.2" font-size="5.6" font-weight="normal" text-anchor="middle" fill="#444">S</text>
<text x="325" y="559.2" font-size="5.6" font-weight="normal" text-anchor="middle" fill="#444">N</text>
<text x="454.2" y="559.2" font-size="5.6" font-weight="normal" text-anchor="middle" fill="#444">N</text>
<text x="318.8" y="582.8" font-size="5.6" font-weight="normal" text-anchor="middle" fill="#444">O</text>
<text x="340.8" y="588.9" font-size="5.6" font-weight="normal" text-anchor="middle" fill="#444">O</text>
<text x="437.4" y="588.9" font-size="5.6" font-weight="normal" text-anchor="middle" fill="#444">O</text>
<text x="457.6" y="585.8" font-size="5.6" font-weight="normal" text-anchor="middle" fill="#444">O</text>
<text x="389.4" y="605.9" font-size="5.6" font-weight="normal" text-anchor="middle" fill="#444">N</text>
<line x1="389.1" y1="588.4" x2="389.1" y2="601" stroke="#3c3c3c" stroke-width="0.95" stroke-linecap="round"/>
<line x1="391.3" y1="589" x2="391.3" y2="601" stroke="#3c3c3c" stroke-width="0.95" stroke-linecap="round"/>
<line x1="391.8" y1="606" x2="401.4" y2="611.2" stroke="#3c3c3c" stroke-width="0.95" stroke-linecap="round"/>
<text x="406" y="614.8" font-size="5.6" font-weight="normal" text-anchor="middle" fill="#444">OH</text>
</svg>
</body></html>
